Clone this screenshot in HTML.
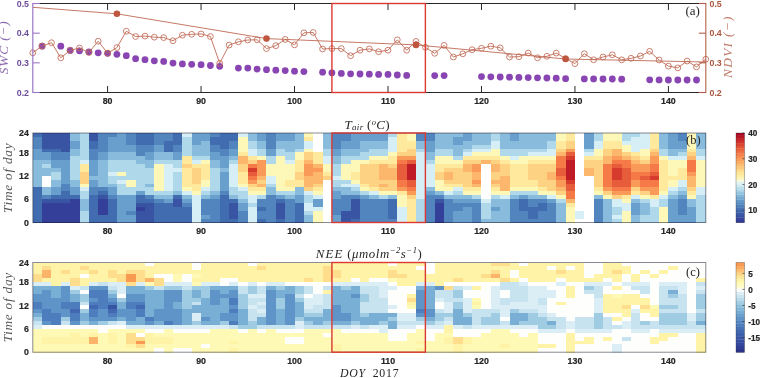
<!DOCTYPE html>
<html><head><meta charset="utf-8"><style>
html,body{margin:0;padding:0;background:#fff;width:760px;height:378px;overflow:hidden}
svg{display:block;filter:blur(0.45px)}
.tl{font-family:"Liberation Sans",sans-serif;font-size:8.8px;font-weight:bold;fill:#262626;stroke:#262626;stroke-width:0.2px}
.ms{font-family:"Liberation Serif",serif;font-style:italic;fill:#262626}
</style></head><body>
<svg width="760" height="378" viewBox="0 0 760 378">
<polyline points="32.8,7.3 116.9,13.8 266.5,38.6 416.0,44.9 565.6,59.0 705.8,62.0" fill="none" stroke="#c06a55" stroke-width="0.9"/>
<circle cx="42.1" cy="46.2" r="3.4" fill="#8946b3"/>
<circle cx="60.8" cy="46.2" r="3.4" fill="#8946b3"/>
<circle cx="70.2" cy="50.4" r="3.4" fill="#8946b3"/>
<circle cx="79.5" cy="50.8" r="3.4" fill="#8946b3"/>
<circle cx="88.9" cy="51.8" r="3.4" fill="#8946b3"/>
<circle cx="98.2" cy="52.8" r="3.4" fill="#8946b3"/>
<circle cx="107.6" cy="53.3" r="3.4" fill="#8946b3"/>
<circle cx="116.9" cy="54.3" r="3.4" fill="#8946b3"/>
<circle cx="126.3" cy="55.7" r="3.4" fill="#8946b3"/>
<circle cx="135.6" cy="58.7" r="3.4" fill="#8946b3"/>
<circle cx="145.0" cy="59.7" r="3.4" fill="#8946b3"/>
<circle cx="154.3" cy="60.8" r="3.4" fill="#8946b3"/>
<circle cx="163.7" cy="61.4" r="3.4" fill="#8946b3"/>
<circle cx="173.0" cy="63.1" r="3.4" fill="#8946b3"/>
<circle cx="182.4" cy="63.9" r="3.4" fill="#8946b3"/>
<circle cx="191.7" cy="64.3" r="3.4" fill="#8946b3"/>
<circle cx="201.1" cy="64.7" r="3.4" fill="#8946b3"/>
<circle cx="210.4" cy="65.5" r="3.4" fill="#8946b3"/>
<circle cx="219.7" cy="66.3" r="3.4" fill="#8946b3"/>
<circle cx="238.4" cy="68.1" r="3.4" fill="#8946b3"/>
<circle cx="247.8" cy="68.1" r="3.4" fill="#8946b3"/>
<circle cx="257.1" cy="69.1" r="3.4" fill="#8946b3"/>
<circle cx="266.5" cy="69.7" r="3.4" fill="#8946b3"/>
<circle cx="275.8" cy="70.2" r="3.4" fill="#8946b3"/>
<circle cx="285.2" cy="70.6" r="3.4" fill="#8946b3"/>
<circle cx="294.5" cy="71.2" r="3.4" fill="#8946b3"/>
<circle cx="303.9" cy="71.6" r="3.4" fill="#8946b3"/>
<circle cx="322.6" cy="72.2" r="3.4" fill="#8946b3"/>
<circle cx="331.9" cy="72.8" r="3.4" fill="#8946b3"/>
<circle cx="341.3" cy="73.4" r="3.4" fill="#8946b3"/>
<circle cx="350.6" cy="73.8" r="3.4" fill="#8946b3"/>
<circle cx="360.0" cy="74.0" r="3.4" fill="#8946b3"/>
<circle cx="369.3" cy="74.2" r="3.4" fill="#8946b3"/>
<circle cx="378.6" cy="74.4" r="3.4" fill="#8946b3"/>
<circle cx="388.0" cy="74.4" r="3.4" fill="#8946b3"/>
<circle cx="397.3" cy="75.0" r="3.4" fill="#8946b3"/>
<circle cx="406.7" cy="75.4" r="3.4" fill="#8946b3"/>
<circle cx="434.7" cy="75.6" r="3.4" fill="#8946b3"/>
<circle cx="444.1" cy="75.6" r="3.4" fill="#8946b3"/>
<circle cx="481.5" cy="76.6" r="3.4" fill="#8946b3"/>
<circle cx="490.8" cy="76.8" r="3.4" fill="#8946b3"/>
<circle cx="500.2" cy="77.0" r="3.4" fill="#8946b3"/>
<circle cx="509.5" cy="77.2" r="3.4" fill="#8946b3"/>
<circle cx="518.9" cy="77.4" r="3.4" fill="#8946b3"/>
<circle cx="528.2" cy="77.6" r="3.4" fill="#8946b3"/>
<circle cx="537.5" cy="77.8" r="3.4" fill="#8946b3"/>
<circle cx="546.9" cy="78.0" r="3.4" fill="#8946b3"/>
<circle cx="556.2" cy="78.2" r="3.4" fill="#8946b3"/>
<circle cx="565.6" cy="78.7" r="3.4" fill="#8946b3"/>
<circle cx="584.3" cy="78.9" r="3.4" fill="#8946b3"/>
<circle cx="593.6" cy="78.9" r="3.4" fill="#8946b3"/>
<circle cx="603.0" cy="79.0" r="3.4" fill="#8946b3"/>
<circle cx="612.3" cy="79.0" r="3.4" fill="#8946b3"/>
<circle cx="621.7" cy="79.2" r="3.4" fill="#8946b3"/>
<circle cx="649.7" cy="79.8" r="3.4" fill="#8946b3"/>
<circle cx="659.1" cy="79.9" r="3.4" fill="#8946b3"/>
<circle cx="668.4" cy="80.0" r="3.4" fill="#8946b3"/>
<circle cx="677.8" cy="80.0" r="3.4" fill="#8946b3"/>
<circle cx="687.1" cy="80.0" r="3.4" fill="#8946b3"/>
<circle cx="696.5" cy="80.0" r="3.4" fill="#8946b3"/>
<polyline points="32.8,52.8 42.1,46.0 51.5,42.7 60.8,57.8 70.2,50.4 79.5,48.0 88.9,52.5 98.2,41.2 107.6,53.2 116.9,47.6 126.3,31.2 135.6,36.5 145.0,36.1 154.3,37.2 163.7,37.6 173.0,40.7 182.4,35.2 191.7,34.3 201.1,33.9 210.4,36.5 219.7,63.3 229.1,45.1 238.4,41.8 247.8,40.0 257.1,39.8 266.5,48.6 275.8,45.7 285.2,39.4 294.5,44.9 303.9,32.8 313.2,32.5 322.6,49.0 331.9,48.6 341.3,48.6 350.6,55.7 360.0,50.2 369.3,48.9 378.6,51.7 388.0,50.2 397.3,39.8 406.7,50.2 416.0,41.4 425.4,47.3 434.7,53.3 444.1,45.4 453.4,57.0 462.8,53.8 472.1,49.7 481.5,48.3 490.8,46.2 500.2,47.8 509.5,57.0 518.9,56.7 528.2,53.0 537.5,57.8 546.9,56.3 556.2,53.1 565.6,58.5 574.9,63.6 584.3,53.7 593.6,59.8 603.0,57.0 612.3,54.8 621.7,59.8 631.0,58.3 640.4,56.0 649.7,51.3 659.1,60.0 668.4,66.1 677.8,67.9 687.1,61.0 696.5,66.9 705.8,59.2" fill="none" stroke="#c06a55" stroke-width="0.9"/>
<circle cx="32.8" cy="52.8" r="2.9" fill="none" stroke="#c06a55" stroke-width="0.85"/>
<circle cx="42.1" cy="46.0" r="2.9" fill="none" stroke="#c06a55" stroke-width="0.85"/>
<circle cx="51.5" cy="42.7" r="2.9" fill="none" stroke="#c06a55" stroke-width="0.85"/>
<circle cx="60.8" cy="57.8" r="2.9" fill="none" stroke="#c06a55" stroke-width="0.85"/>
<circle cx="70.2" cy="50.4" r="2.9" fill="none" stroke="#c06a55" stroke-width="0.85"/>
<circle cx="79.5" cy="48.0" r="2.9" fill="none" stroke="#c06a55" stroke-width="0.85"/>
<circle cx="88.9" cy="52.5" r="2.9" fill="none" stroke="#c06a55" stroke-width="0.85"/>
<circle cx="98.2" cy="41.2" r="2.9" fill="none" stroke="#c06a55" stroke-width="0.85"/>
<circle cx="107.6" cy="53.2" r="2.9" fill="none" stroke="#c06a55" stroke-width="0.85"/>
<circle cx="116.9" cy="47.6" r="2.9" fill="none" stroke="#c06a55" stroke-width="0.85"/>
<circle cx="126.3" cy="31.2" r="2.9" fill="none" stroke="#c06a55" stroke-width="0.85"/>
<circle cx="135.6" cy="36.5" r="2.9" fill="none" stroke="#c06a55" stroke-width="0.85"/>
<circle cx="145.0" cy="36.1" r="2.9" fill="none" stroke="#c06a55" stroke-width="0.85"/>
<circle cx="154.3" cy="37.2" r="2.9" fill="none" stroke="#c06a55" stroke-width="0.85"/>
<circle cx="163.7" cy="37.6" r="2.9" fill="none" stroke="#c06a55" stroke-width="0.85"/>
<circle cx="173.0" cy="40.7" r="2.9" fill="none" stroke="#c06a55" stroke-width="0.85"/>
<circle cx="182.4" cy="35.2" r="2.9" fill="none" stroke="#c06a55" stroke-width="0.85"/>
<circle cx="191.7" cy="34.3" r="2.9" fill="none" stroke="#c06a55" stroke-width="0.85"/>
<circle cx="201.1" cy="33.9" r="2.9" fill="none" stroke="#c06a55" stroke-width="0.85"/>
<circle cx="210.4" cy="36.5" r="2.9" fill="none" stroke="#c06a55" stroke-width="0.85"/>
<circle cx="219.7" cy="63.3" r="2.9" fill="none" stroke="#c06a55" stroke-width="0.85"/>
<circle cx="229.1" cy="45.1" r="2.9" fill="none" stroke="#c06a55" stroke-width="0.85"/>
<circle cx="238.4" cy="41.8" r="2.9" fill="none" stroke="#c06a55" stroke-width="0.85"/>
<circle cx="247.8" cy="40.0" r="2.9" fill="none" stroke="#c06a55" stroke-width="0.85"/>
<circle cx="257.1" cy="39.8" r="2.9" fill="none" stroke="#c06a55" stroke-width="0.85"/>
<circle cx="266.5" cy="48.6" r="2.9" fill="none" stroke="#c06a55" stroke-width="0.85"/>
<circle cx="275.8" cy="45.7" r="2.9" fill="none" stroke="#c06a55" stroke-width="0.85"/>
<circle cx="285.2" cy="39.4" r="2.9" fill="none" stroke="#c06a55" stroke-width="0.85"/>
<circle cx="294.5" cy="44.9" r="2.9" fill="none" stroke="#c06a55" stroke-width="0.85"/>
<circle cx="303.9" cy="32.8" r="2.9" fill="none" stroke="#c06a55" stroke-width="0.85"/>
<circle cx="313.2" cy="32.5" r="2.9" fill="none" stroke="#c06a55" stroke-width="0.85"/>
<circle cx="322.6" cy="49.0" r="2.9" fill="none" stroke="#c06a55" stroke-width="0.85"/>
<circle cx="331.9" cy="48.6" r="2.9" fill="none" stroke="#c06a55" stroke-width="0.85"/>
<circle cx="341.3" cy="48.6" r="2.9" fill="none" stroke="#c06a55" stroke-width="0.85"/>
<circle cx="350.6" cy="55.7" r="2.9" fill="none" stroke="#c06a55" stroke-width="0.85"/>
<circle cx="360.0" cy="50.2" r="2.9" fill="none" stroke="#c06a55" stroke-width="0.85"/>
<circle cx="369.3" cy="48.9" r="2.9" fill="none" stroke="#c06a55" stroke-width="0.85"/>
<circle cx="378.6" cy="51.7" r="2.9" fill="none" stroke="#c06a55" stroke-width="0.85"/>
<circle cx="388.0" cy="50.2" r="2.9" fill="none" stroke="#c06a55" stroke-width="0.85"/>
<circle cx="397.3" cy="39.8" r="2.9" fill="none" stroke="#c06a55" stroke-width="0.85"/>
<circle cx="406.7" cy="50.2" r="2.9" fill="none" stroke="#c06a55" stroke-width="0.85"/>
<circle cx="416.0" cy="41.4" r="2.9" fill="none" stroke="#c06a55" stroke-width="0.85"/>
<circle cx="425.4" cy="47.3" r="2.9" fill="none" stroke="#c06a55" stroke-width="0.85"/>
<circle cx="434.7" cy="53.3" r="2.9" fill="none" stroke="#c06a55" stroke-width="0.85"/>
<circle cx="444.1" cy="45.4" r="2.9" fill="none" stroke="#c06a55" stroke-width="0.85"/>
<circle cx="453.4" cy="57.0" r="2.9" fill="none" stroke="#c06a55" stroke-width="0.85"/>
<circle cx="462.8" cy="53.8" r="2.9" fill="none" stroke="#c06a55" stroke-width="0.85"/>
<circle cx="472.1" cy="49.7" r="2.9" fill="none" stroke="#c06a55" stroke-width="0.85"/>
<circle cx="481.5" cy="48.3" r="2.9" fill="none" stroke="#c06a55" stroke-width="0.85"/>
<circle cx="490.8" cy="46.2" r="2.9" fill="none" stroke="#c06a55" stroke-width="0.85"/>
<circle cx="500.2" cy="47.8" r="2.9" fill="none" stroke="#c06a55" stroke-width="0.85"/>
<circle cx="509.5" cy="57.0" r="2.9" fill="none" stroke="#c06a55" stroke-width="0.85"/>
<circle cx="518.9" cy="56.7" r="2.9" fill="none" stroke="#c06a55" stroke-width="0.85"/>
<circle cx="528.2" cy="53.0" r="2.9" fill="none" stroke="#c06a55" stroke-width="0.85"/>
<circle cx="537.5" cy="57.8" r="2.9" fill="none" stroke="#c06a55" stroke-width="0.85"/>
<circle cx="546.9" cy="56.3" r="2.9" fill="none" stroke="#c06a55" stroke-width="0.85"/>
<circle cx="556.2" cy="53.1" r="2.9" fill="none" stroke="#c06a55" stroke-width="0.85"/>
<circle cx="565.6" cy="58.5" r="2.9" fill="none" stroke="#c06a55" stroke-width="0.85"/>
<circle cx="574.9" cy="63.6" r="2.9" fill="none" stroke="#c06a55" stroke-width="0.85"/>
<circle cx="584.3" cy="53.7" r="2.9" fill="none" stroke="#c06a55" stroke-width="0.85"/>
<circle cx="593.6" cy="59.8" r="2.9" fill="none" stroke="#c06a55" stroke-width="0.85"/>
<circle cx="603.0" cy="57.0" r="2.9" fill="none" stroke="#c06a55" stroke-width="0.85"/>
<circle cx="612.3" cy="54.8" r="2.9" fill="none" stroke="#c06a55" stroke-width="0.85"/>
<circle cx="621.7" cy="59.8" r="2.9" fill="none" stroke="#c06a55" stroke-width="0.85"/>
<circle cx="631.0" cy="58.3" r="2.9" fill="none" stroke="#c06a55" stroke-width="0.85"/>
<circle cx="640.4" cy="56.0" r="2.9" fill="none" stroke="#c06a55" stroke-width="0.85"/>
<circle cx="649.7" cy="51.3" r="2.9" fill="none" stroke="#c06a55" stroke-width="0.85"/>
<circle cx="659.1" cy="60.0" r="2.9" fill="none" stroke="#c06a55" stroke-width="0.85"/>
<circle cx="668.4" cy="66.1" r="2.9" fill="none" stroke="#c06a55" stroke-width="0.85"/>
<circle cx="677.8" cy="67.9" r="2.9" fill="none" stroke="#c06a55" stroke-width="0.85"/>
<circle cx="687.1" cy="61.0" r="2.9" fill="none" stroke="#c06a55" stroke-width="0.85"/>
<circle cx="696.5" cy="66.9" r="2.9" fill="none" stroke="#c06a55" stroke-width="0.85"/>
<circle cx="705.8" cy="59.2" r="2.9" fill="none" stroke="#c06a55" stroke-width="0.85"/>
<circle cx="116.9" cy="13.8" r="3.3" fill="#bf5640"/>
<circle cx="266.5" cy="38.6" r="3.3" fill="#bf5640"/>
<circle cx="416.0" cy="44.9" r="3.3" fill="#bf5640"/>
<circle cx="565.6" cy="59.0" r="3.3" fill="#bf5640"/>
<line x1="32.80" y1="3.50" x2="705.80" y2="3.50" stroke="#262626" stroke-width="1"/>
<line x1="32.80" y1="92.50" x2="705.80" y2="92.50" stroke="#262626" stroke-width="1"/>
<line x1="107.58" y1="92.50" x2="107.58" y2="86.00" stroke="#262626" stroke-width="1"/>
<line x1="107.58" y1="3.50" x2="107.58" y2="10.00" stroke="#262626" stroke-width="1"/>
<text x="107.58" y="104.20" class="tl" text-anchor="middle">80</text>
<line x1="201.05" y1="92.50" x2="201.05" y2="86.00" stroke="#262626" stroke-width="1"/>
<line x1="201.05" y1="3.50" x2="201.05" y2="10.00" stroke="#262626" stroke-width="1"/>
<text x="201.05" y="104.20" class="tl" text-anchor="middle">90</text>
<line x1="294.52" y1="92.50" x2="294.52" y2="86.00" stroke="#262626" stroke-width="1"/>
<line x1="294.52" y1="3.50" x2="294.52" y2="10.00" stroke="#262626" stroke-width="1"/>
<text x="294.52" y="104.20" class="tl" text-anchor="middle">100</text>
<line x1="387.99" y1="92.50" x2="387.99" y2="86.00" stroke="#262626" stroke-width="1"/>
<line x1="387.99" y1="3.50" x2="387.99" y2="10.00" stroke="#262626" stroke-width="1"/>
<text x="387.99" y="104.20" class="tl" text-anchor="middle">110</text>
<line x1="481.47" y1="92.50" x2="481.47" y2="86.00" stroke="#262626" stroke-width="1"/>
<line x1="481.47" y1="3.50" x2="481.47" y2="10.00" stroke="#262626" stroke-width="1"/>
<text x="481.47" y="104.20" class="tl" text-anchor="middle">120</text>
<line x1="574.94" y1="92.50" x2="574.94" y2="86.00" stroke="#262626" stroke-width="1"/>
<line x1="574.94" y1="3.50" x2="574.94" y2="10.00" stroke="#262626" stroke-width="1"/>
<text x="574.94" y="104.20" class="tl" text-anchor="middle">130</text>
<line x1="668.41" y1="92.50" x2="668.41" y2="86.00" stroke="#262626" stroke-width="1"/>
<line x1="668.41" y1="3.50" x2="668.41" y2="10.00" stroke="#262626" stroke-width="1"/>
<text x="668.41" y="104.20" class="tl" text-anchor="middle">140</text>
<line x1="32.80" y1="3.00" x2="32.80" y2="93.00" stroke="#9b78c6" stroke-width="1.2"/>
<line x1="705.80" y1="3.00" x2="705.80" y2="93.00" stroke="#b5604c" stroke-width="1.1"/>
<line x1="32.80" y1="92.50" x2="39.80" y2="92.50" stroke="#9b78c6" stroke-width="1.1"/>
<line x1="705.80" y1="92.50" x2="698.80" y2="92.50" stroke="#b5604c" stroke-width="1.1"/>
<text x="29" y="95.80" class="tl" text-anchor="end" style="fill:#6c4c98;stroke:none">0.2</text>
<text x="709.5" y="95.80" class="tl" style="fill:#a9563f;stroke:none">0.2</text>
<line x1="32.80" y1="62.83" x2="39.80" y2="62.83" stroke="#9b78c6" stroke-width="1.1"/>
<line x1="705.80" y1="62.83" x2="698.80" y2="62.83" stroke="#b5604c" stroke-width="1.1"/>
<text x="29" y="66.13" class="tl" text-anchor="end" style="fill:#6c4c98;stroke:none">0.3</text>
<text x="709.5" y="66.13" class="tl" style="fill:#a9563f;stroke:none">0.3</text>
<line x1="32.80" y1="33.17" x2="39.80" y2="33.17" stroke="#9b78c6" stroke-width="1.1"/>
<line x1="705.80" y1="33.17" x2="698.80" y2="33.17" stroke="#b5604c" stroke-width="1.1"/>
<text x="29" y="36.47" class="tl" text-anchor="end" style="fill:#6c4c98;stroke:none">0.4</text>
<text x="709.5" y="36.47" class="tl" style="fill:#a9563f;stroke:none">0.4</text>
<line x1="32.80" y1="3.50" x2="39.80" y2="3.50" stroke="#9b78c6" stroke-width="1.1"/>
<line x1="705.80" y1="3.50" x2="698.80" y2="3.50" stroke="#b5604c" stroke-width="1.1"/>
<text x="29" y="6.80" class="tl" text-anchor="end" style="fill:#6c4c98;stroke:none">0.5</text>
<text x="709.5" y="6.80" class="tl" style="fill:#a9563f;stroke:none">0.5</text>
<text id="swc" transform="translate(8.3,47.3) rotate(-90)" class="ms" text-anchor="middle" style="font-size:13.2px;letter-spacing:0.9px;fill:#8a6aae">SWC (−)</text>
<text id="ndvi" transform="translate(732.4,46.6) rotate(-90)" class="ms" text-anchor="middle" style="font-size:13.3px;letter-spacing:1.3px;fill:#c07a6a">NDVI (−)</text>
<text id="la" x="685.5" y="15.2" class="ms" style="font-style:normal;font-size:13px">(a)</text>
<rect x="331.91" y="3.50" width="93.47" height="89.00" fill="none" stroke="#db3a33" stroke-width="1.4"/>
<g shape-rendering="crispEdges"><rect x="32.80" y="133.00" width="9.70" height="4.24" fill="#426cb0"/>
<rect x="32.80" y="136.89" width="9.70" height="12.02" fill="#5285be"/>
<rect x="32.80" y="148.57" width="9.70" height="12.02" fill="#699fcd"/>
<rect x="32.80" y="160.24" width="9.70" height="27.59" fill="#89bcdc"/>
<rect x="32.80" y="187.48" width="9.70" height="35.37" fill="#426cb0"/>
<rect x="42.15" y="133.00" width="9.70" height="15.92" fill="#3a54a4"/>
<rect x="42.15" y="148.57" width="9.70" height="4.24" fill="#426cb0"/>
<rect x="42.15" y="152.46" width="9.70" height="8.13" fill="#699fcd"/>
<rect x="42.15" y="160.24" width="9.70" height="4.24" fill="#89bcdc"/>
<rect x="42.15" y="164.13" width="9.70" height="4.24" fill="#afd9ea"/>
<rect x="42.15" y="168.02" width="9.70" height="8.13" fill="#89bcdc"/>
<rect x="42.15" y="175.80" width="9.70" height="12.02" fill="#ffffff"/>
<rect x="42.15" y="187.48" width="9.70" height="8.13" fill="#89bcdc"/>
<rect x="42.15" y="195.26" width="9.70" height="4.24" fill="#5285be"/>
<rect x="42.15" y="199.15" width="9.70" height="4.24" fill="#3a54a4"/>
<rect x="42.15" y="203.04" width="9.70" height="19.81" fill="#343f99"/>
<rect x="51.49" y="133.00" width="9.70" height="15.92" fill="#3a54a4"/>
<rect x="51.49" y="148.57" width="9.70" height="4.24" fill="#426cb0"/>
<rect x="51.49" y="152.46" width="9.70" height="8.13" fill="#5285be"/>
<rect x="51.49" y="160.24" width="9.70" height="8.13" fill="#699fcd"/>
<rect x="51.49" y="168.02" width="9.70" height="4.24" fill="#89bcdc"/>
<rect x="51.49" y="171.91" width="9.70" height="8.13" fill="#afd9ea"/>
<rect x="51.49" y="179.70" width="9.70" height="8.13" fill="#89bcdc"/>
<rect x="51.49" y="187.48" width="9.70" height="8.13" fill="#699fcd"/>
<rect x="51.49" y="195.26" width="9.70" height="4.24" fill="#426cb0"/>
<rect x="51.49" y="199.15" width="9.70" height="4.24" fill="#3a54a4"/>
<rect x="51.49" y="203.04" width="9.70" height="19.81" fill="#343f99"/>
<rect x="60.84" y="133.00" width="9.70" height="19.81" fill="#3a54a4"/>
<rect x="60.84" y="152.46" width="9.70" height="8.13" fill="#5285be"/>
<rect x="60.84" y="160.24" width="9.70" height="23.70" fill="#699fcd"/>
<rect x="60.84" y="183.59" width="9.70" height="8.13" fill="#5285be"/>
<rect x="60.84" y="191.37" width="9.70" height="8.13" fill="#426cb0"/>
<rect x="60.84" y="199.15" width="9.70" height="4.24" fill="#3a54a4"/>
<rect x="60.84" y="203.04" width="9.70" height="19.81" fill="#343f99"/>
<rect x="70.19" y="133.00" width="9.70" height="8.13" fill="#89bcdc"/>
<rect x="70.19" y="140.78" width="9.70" height="8.13" fill="#699fcd"/>
<rect x="70.19" y="148.57" width="9.70" height="8.13" fill="#89bcdc"/>
<rect x="70.19" y="156.35" width="9.70" height="23.70" fill="#afd9ea"/>
<rect x="70.19" y="179.70" width="9.70" height="8.13" fill="#89bcdc"/>
<rect x="70.19" y="187.48" width="9.70" height="8.13" fill="#699fcd"/>
<rect x="70.19" y="195.26" width="9.70" height="4.24" fill="#426cb0"/>
<rect x="70.19" y="199.15" width="9.70" height="23.70" fill="#343f99"/>
<rect x="79.54" y="133.00" width="9.70" height="27.59" fill="#afd9ea"/>
<rect x="79.54" y="160.24" width="9.70" height="4.24" fill="#d6eef5"/>
<rect x="79.54" y="164.13" width="9.70" height="8.13" fill="#fee99d"/>
<rect x="79.54" y="171.91" width="9.70" height="12.02" fill="#fdd283"/>
<rect x="79.54" y="183.59" width="9.70" height="4.24" fill="#fef8b8"/>
<rect x="79.54" y="187.48" width="9.70" height="4.24" fill="#d6eef5"/>
<rect x="79.54" y="191.37" width="9.70" height="8.13" fill="#afd9ea"/>
<rect x="79.54" y="199.15" width="9.70" height="12.02" fill="#89bcdc"/>
<rect x="79.54" y="210.83" width="9.70" height="12.02" fill="#afd9ea"/>
<rect x="88.88" y="133.00" width="9.70" height="8.13" fill="#3a54a4"/>
<rect x="88.88" y="140.78" width="9.70" height="8.13" fill="#426cb0"/>
<rect x="88.88" y="148.57" width="9.70" height="12.02" fill="#5285be"/>
<rect x="88.88" y="160.24" width="9.70" height="15.92" fill="#699fcd"/>
<rect x="88.88" y="175.80" width="9.70" height="4.24" fill="#89bcdc"/>
<rect x="88.88" y="179.70" width="9.70" height="8.13" fill="#699fcd"/>
<rect x="88.88" y="187.48" width="9.70" height="8.13" fill="#5285be"/>
<rect x="88.88" y="195.26" width="9.70" height="27.59" fill="#426cb0"/>
<rect x="98.23" y="133.00" width="9.70" height="19.81" fill="#5285be"/>
<rect x="98.23" y="152.46" width="9.70" height="8.13" fill="#699fcd"/>
<rect x="98.23" y="160.24" width="9.70" height="27.59" fill="#89bcdc"/>
<rect x="98.23" y="187.48" width="9.70" height="4.24" fill="#5285be"/>
<rect x="98.23" y="191.37" width="9.70" height="4.24" fill="#426cb0"/>
<rect x="98.23" y="195.26" width="9.70" height="4.24" fill="#3a54a4"/>
<rect x="98.23" y="199.15" width="9.70" height="15.92" fill="#343f99"/>
<rect x="98.23" y="214.72" width="9.70" height="8.13" fill="#426cb0"/>
<rect x="107.58" y="133.00" width="9.70" height="4.24" fill="#5285be"/>
<rect x="107.58" y="136.89" width="9.70" height="15.92" fill="#699fcd"/>
<rect x="107.58" y="152.46" width="9.70" height="8.13" fill="#89bcdc"/>
<rect x="107.58" y="160.24" width="9.70" height="12.02" fill="#afd9ea"/>
<rect x="107.58" y="171.91" width="9.70" height="4.24" fill="#d6eef5"/>
<rect x="107.58" y="175.80" width="9.70" height="8.13" fill="#afd9ea"/>
<rect x="107.58" y="183.59" width="9.70" height="4.24" fill="#89bcdc"/>
<rect x="107.58" y="187.48" width="9.70" height="8.13" fill="#699fcd"/>
<rect x="107.58" y="195.26" width="9.70" height="4.24" fill="#5285be"/>
<rect x="107.58" y="199.15" width="9.70" height="23.70" fill="#426cb0"/>
<rect x="116.92" y="133.00" width="9.70" height="19.81" fill="#699fcd"/>
<rect x="116.92" y="152.46" width="9.70" height="8.13" fill="#89bcdc"/>
<rect x="116.92" y="160.24" width="9.70" height="12.02" fill="#afd9ea"/>
<rect x="116.92" y="171.91" width="9.70" height="4.24" fill="#fef8b8"/>
<rect x="116.92" y="175.80" width="9.70" height="4.24" fill="#afd9ea"/>
<rect x="116.92" y="179.70" width="9.70" height="4.24" fill="#d6eef5"/>
<rect x="116.92" y="183.59" width="9.70" height="12.02" fill="#afd9ea"/>
<rect x="116.92" y="195.26" width="9.70" height="27.59" fill="#699fcd"/>
<rect x="126.27" y="133.00" width="9.70" height="12.02" fill="#5285be"/>
<rect x="126.27" y="144.67" width="9.70" height="8.13" fill="#699fcd"/>
<rect x="126.27" y="152.46" width="9.70" height="8.13" fill="#89bcdc"/>
<rect x="126.27" y="160.24" width="9.70" height="19.81" fill="#afd9ea"/>
<rect x="126.27" y="179.70" width="9.70" height="8.13" fill="#fef8b8"/>
<rect x="126.27" y="187.48" width="9.70" height="8.13" fill="#afd9ea"/>
<rect x="126.27" y="195.26" width="9.70" height="15.92" fill="#699fcd"/>
<rect x="126.27" y="210.83" width="9.70" height="4.24" fill="#5285be"/>
<rect x="126.27" y="214.72" width="9.70" height="8.13" fill="#699fcd"/>
<rect x="135.62" y="133.00" width="9.70" height="12.02" fill="#426cb0"/>
<rect x="135.62" y="144.67" width="9.70" height="12.02" fill="#5285be"/>
<rect x="135.62" y="156.35" width="9.70" height="8.13" fill="#89bcdc"/>
<rect x="135.62" y="164.13" width="9.70" height="27.59" fill="#afd9ea"/>
<rect x="135.62" y="191.37" width="9.70" height="4.24" fill="#699fcd"/>
<rect x="135.62" y="195.26" width="9.70" height="8.13" fill="#426cb0"/>
<rect x="135.62" y="203.04" width="9.70" height="4.24" fill="#3a54a4"/>
<rect x="135.62" y="206.93" width="9.70" height="4.24" fill="#343f99"/>
<rect x="135.62" y="210.83" width="9.70" height="12.02" fill="#3a54a4"/>
<rect x="144.97" y="133.00" width="9.70" height="12.02" fill="#426cb0"/>
<rect x="144.97" y="144.67" width="9.70" height="8.13" fill="#5285be"/>
<rect x="144.97" y="152.46" width="9.70" height="8.13" fill="#699fcd"/>
<rect x="144.97" y="160.24" width="9.70" height="8.13" fill="#89bcdc"/>
<rect x="144.97" y="168.02" width="9.70" height="15.92" fill="#afd9ea"/>
<rect x="144.97" y="183.59" width="9.70" height="4.24" fill="#89bcdc"/>
<rect x="144.97" y="187.48" width="9.70" height="8.13" fill="#afd9ea"/>
<rect x="144.97" y="195.26" width="9.70" height="4.24" fill="#5285be"/>
<rect x="144.97" y="199.15" width="9.70" height="4.24" fill="#426cb0"/>
<rect x="144.97" y="203.04" width="9.70" height="19.81" fill="#3a54a4"/>
<rect x="154.31" y="133.00" width="9.70" height="12.02" fill="#5285be"/>
<rect x="154.31" y="144.67" width="9.70" height="8.13" fill="#699fcd"/>
<rect x="154.31" y="152.46" width="9.70" height="8.13" fill="#89bcdc"/>
<rect x="154.31" y="160.24" width="9.70" height="4.24" fill="#afd9ea"/>
<rect x="154.31" y="164.13" width="9.70" height="27.59" fill="#fef8b8"/>
<rect x="154.31" y="191.37" width="9.70" height="4.24" fill="#afd9ea"/>
<rect x="154.31" y="195.26" width="9.70" height="4.24" fill="#89bcdc"/>
<rect x="154.31" y="199.15" width="9.70" height="4.24" fill="#5285be"/>
<rect x="154.31" y="203.04" width="9.70" height="19.81" fill="#426cb0"/>
<rect x="163.66" y="133.00" width="9.70" height="8.13" fill="#5285be"/>
<rect x="163.66" y="140.78" width="9.70" height="12.02" fill="#426cb0"/>
<rect x="163.66" y="152.46" width="9.70" height="8.13" fill="#89bcdc"/>
<rect x="163.66" y="160.24" width="9.70" height="4.24" fill="#afd9ea"/>
<rect x="163.66" y="164.13" width="9.70" height="27.59" fill="#d6eef5"/>
<rect x="163.66" y="191.37" width="9.70" height="4.24" fill="#afd9ea"/>
<rect x="163.66" y="195.26" width="9.70" height="4.24" fill="#89bcdc"/>
<rect x="163.66" y="199.15" width="9.70" height="4.24" fill="#699fcd"/>
<rect x="163.66" y="203.04" width="9.70" height="19.81" fill="#426cb0"/>
<rect x="173.01" y="133.00" width="9.70" height="12.02" fill="#426cb0"/>
<rect x="173.01" y="144.67" width="9.70" height="8.13" fill="#5285be"/>
<rect x="173.01" y="152.46" width="9.70" height="8.13" fill="#699fcd"/>
<rect x="173.01" y="160.24" width="9.70" height="8.13" fill="#afd9ea"/>
<rect x="173.01" y="168.02" width="9.70" height="4.24" fill="#d6eef5"/>
<rect x="173.01" y="171.91" width="9.70" height="19.81" fill="#afd9ea"/>
<rect x="173.01" y="191.37" width="9.70" height="4.24" fill="#89bcdc"/>
<rect x="173.01" y="195.26" width="9.70" height="4.24" fill="#426cb0"/>
<rect x="173.01" y="199.15" width="9.70" height="8.13" fill="#3a54a4"/>
<rect x="173.01" y="206.93" width="9.70" height="15.92" fill="#426cb0"/>
<rect x="182.36" y="133.00" width="9.70" height="4.24" fill="#d6eef5"/>
<rect x="182.36" y="136.89" width="9.70" height="19.81" fill="#afd9ea"/>
<rect x="182.36" y="156.35" width="9.70" height="8.13" fill="#fee99d"/>
<rect x="182.36" y="164.13" width="9.70" height="4.24" fill="#fdd283"/>
<rect x="182.36" y="168.02" width="9.70" height="19.81" fill="#fee99d"/>
<rect x="182.36" y="187.48" width="9.70" height="4.24" fill="#fef8b8"/>
<rect x="182.36" y="191.37" width="9.70" height="4.24" fill="#d6eef5"/>
<rect x="182.36" y="195.26" width="9.70" height="4.24" fill="#89bcdc"/>
<rect x="182.36" y="199.15" width="9.70" height="4.24" fill="#699fcd"/>
<rect x="182.36" y="203.04" width="9.70" height="4.24" fill="#5285be"/>
<rect x="182.36" y="206.93" width="9.70" height="15.92" fill="#426cb0"/>
<rect x="191.70" y="133.00" width="9.70" height="12.02" fill="#699fcd"/>
<rect x="191.70" y="144.67" width="9.70" height="12.02" fill="#89bcdc"/>
<rect x="191.70" y="156.35" width="9.70" height="4.24" fill="#afd9ea"/>
<rect x="191.70" y="160.24" width="9.70" height="4.24" fill="#d6eef5"/>
<rect x="191.70" y="164.13" width="9.70" height="4.24" fill="#fee99d"/>
<rect x="191.70" y="168.02" width="9.70" height="15.92" fill="#fdd283"/>
<rect x="191.70" y="183.59" width="9.70" height="8.13" fill="#fee99d"/>
<rect x="191.70" y="191.37" width="9.70" height="4.24" fill="#fef8b8"/>
<rect x="191.70" y="195.26" width="9.70" height="27.59" fill="#d6eef5"/>
<rect x="201.05" y="133.00" width="9.70" height="8.13" fill="#699fcd"/>
<rect x="201.05" y="140.78" width="9.70" height="15.92" fill="#89bcdc"/>
<rect x="201.05" y="156.35" width="9.70" height="4.24" fill="#afd9ea"/>
<rect x="201.05" y="160.24" width="9.70" height="4.24" fill="#fef8b8"/>
<rect x="201.05" y="164.13" width="9.70" height="15.92" fill="#fee99d"/>
<rect x="201.05" y="179.70" width="9.70" height="8.13" fill="#fef8b8"/>
<rect x="201.05" y="187.48" width="9.70" height="4.24" fill="#d6eef5"/>
<rect x="201.05" y="191.37" width="9.70" height="4.24" fill="#afd9ea"/>
<rect x="201.05" y="195.26" width="9.70" height="4.24" fill="#89bcdc"/>
<rect x="201.05" y="199.15" width="9.70" height="15.92" fill="#5285be"/>
<rect x="201.05" y="214.72" width="9.70" height="4.24" fill="#699fcd"/>
<rect x="201.05" y="218.61" width="9.70" height="4.24" fill="#5285be"/>
<rect x="210.40" y="133.00" width="9.70" height="4.24" fill="#5285be"/>
<rect x="210.40" y="136.89" width="9.70" height="8.13" fill="#426cb0"/>
<rect x="210.40" y="144.67" width="9.70" height="8.13" fill="#5285be"/>
<rect x="210.40" y="152.46" width="9.70" height="8.13" fill="#699fcd"/>
<rect x="210.40" y="160.24" width="9.70" height="8.13" fill="#89bcdc"/>
<rect x="210.40" y="168.02" width="9.70" height="23.70" fill="#afd9ea"/>
<rect x="210.40" y="191.37" width="9.70" height="4.24" fill="#89bcdc"/>
<rect x="210.40" y="195.26" width="9.70" height="4.24" fill="#699fcd"/>
<rect x="210.40" y="199.15" width="9.70" height="23.70" fill="#5285be"/>
<rect x="219.74" y="133.00" width="9.70" height="15.92" fill="#426cb0"/>
<rect x="219.74" y="148.57" width="9.70" height="8.13" fill="#5285be"/>
<rect x="219.74" y="156.35" width="9.70" height="12.02" fill="#699fcd"/>
<rect x="219.74" y="168.02" width="9.70" height="4.24" fill="#89bcdc"/>
<rect x="219.74" y="171.91" width="9.70" height="19.81" fill="#699fcd"/>
<rect x="219.74" y="191.37" width="9.70" height="4.24" fill="#5285be"/>
<rect x="219.74" y="195.26" width="9.70" height="27.59" fill="#426cb0"/>
<rect x="229.09" y="133.00" width="9.70" height="8.13" fill="#426cb0"/>
<rect x="229.09" y="140.78" width="9.70" height="8.13" fill="#5285be"/>
<rect x="229.09" y="148.57" width="9.70" height="8.13" fill="#699fcd"/>
<rect x="229.09" y="156.35" width="9.70" height="4.24" fill="#89bcdc"/>
<rect x="229.09" y="160.24" width="9.70" height="4.24" fill="#afd9ea"/>
<rect x="229.09" y="164.13" width="9.70" height="23.70" fill="#d6eef5"/>
<rect x="229.09" y="187.48" width="9.70" height="8.13" fill="#afd9ea"/>
<rect x="229.09" y="195.26" width="9.70" height="4.24" fill="#89bcdc"/>
<rect x="229.09" y="199.15" width="9.70" height="4.24" fill="#426cb0"/>
<rect x="229.09" y="203.04" width="9.70" height="15.92" fill="#3a54a4"/>
<rect x="229.09" y="218.61" width="9.70" height="4.24" fill="#426cb0"/>
<rect x="238.44" y="133.00" width="9.70" height="4.24" fill="#d6eef5"/>
<rect x="238.44" y="136.89" width="9.70" height="15.92" fill="#fef8b8"/>
<rect x="238.44" y="152.46" width="9.70" height="4.24" fill="#fee99d"/>
<rect x="238.44" y="156.35" width="9.70" height="8.13" fill="#fcb76c"/>
<rect x="238.44" y="164.13" width="9.70" height="8.13" fill="#fdd283"/>
<rect x="238.44" y="171.91" width="9.70" height="12.02" fill="#fee99d"/>
<rect x="238.44" y="183.59" width="9.70" height="4.24" fill="#fef8b8"/>
<rect x="238.44" y="187.48" width="9.70" height="4.24" fill="#d6eef5"/>
<rect x="238.44" y="191.37" width="9.70" height="8.13" fill="#afd9ea"/>
<rect x="238.44" y="199.15" width="9.70" height="4.24" fill="#89bcdc"/>
<rect x="238.44" y="203.04" width="9.70" height="8.13" fill="#699fcd"/>
<rect x="238.44" y="210.83" width="9.70" height="12.02" fill="#5285be"/>
<rect x="247.79" y="133.00" width="9.70" height="8.13" fill="#89bcdc"/>
<rect x="247.79" y="140.78" width="9.70" height="8.13" fill="#afd9ea"/>
<rect x="247.79" y="148.57" width="9.70" height="8.13" fill="#d6eef5"/>
<rect x="247.79" y="156.35" width="9.70" height="4.24" fill="#fee99d"/>
<rect x="247.79" y="160.24" width="9.70" height="4.24" fill="#fdd283"/>
<rect x="247.79" y="164.13" width="9.70" height="4.24" fill="#f57a48"/>
<rect x="247.79" y="168.02" width="9.70" height="4.24" fill="#d63b2d"/>
<rect x="247.79" y="171.91" width="9.70" height="4.24" fill="#e75c3a"/>
<rect x="247.79" y="175.80" width="9.70" height="4.24" fill="#f57a48"/>
<rect x="247.79" y="179.70" width="9.70" height="4.24" fill="#fa9a58"/>
<rect x="247.79" y="183.59" width="9.70" height="4.24" fill="#fdd283"/>
<rect x="247.79" y="187.48" width="9.70" height="4.24" fill="#fee99d"/>
<rect x="247.79" y="191.37" width="9.70" height="4.24" fill="#fef8b8"/>
<rect x="247.79" y="195.26" width="9.70" height="8.13" fill="#d6eef5"/>
<rect x="247.79" y="203.04" width="9.70" height="4.24" fill="#afd9ea"/>
<rect x="247.79" y="206.93" width="9.70" height="15.92" fill="#d6eef5"/>
<rect x="257.13" y="133.00" width="9.70" height="8.13" fill="#699fcd"/>
<rect x="257.13" y="140.78" width="9.70" height="8.13" fill="#89bcdc"/>
<rect x="257.13" y="148.57" width="9.70" height="8.13" fill="#afd9ea"/>
<rect x="257.13" y="156.35" width="9.70" height="4.24" fill="#fef8b8"/>
<rect x="257.13" y="160.24" width="9.70" height="15.92" fill="#fa9a58"/>
<rect x="257.13" y="175.80" width="9.70" height="4.24" fill="#fcb76c"/>
<rect x="257.13" y="179.70" width="9.70" height="4.24" fill="#fdd283"/>
<rect x="257.13" y="183.59" width="9.70" height="4.24" fill="#fcb76c"/>
<rect x="257.13" y="187.48" width="9.70" height="4.24" fill="#fee99d"/>
<rect x="257.13" y="191.37" width="9.70" height="4.24" fill="#fef8b8"/>
<rect x="257.13" y="195.26" width="9.70" height="4.24" fill="#afd9ea"/>
<rect x="257.13" y="199.15" width="9.70" height="8.13" fill="#5285be"/>
<rect x="257.13" y="206.93" width="9.70" height="4.24" fill="#426cb0"/>
<rect x="257.13" y="210.83" width="9.70" height="8.13" fill="#5285be"/>
<rect x="257.13" y="218.61" width="9.70" height="4.24" fill="#426cb0"/>
<rect x="266.48" y="133.00" width="9.70" height="15.92" fill="#5285be"/>
<rect x="266.48" y="148.57" width="9.70" height="8.13" fill="#699fcd"/>
<rect x="266.48" y="156.35" width="9.70" height="8.13" fill="#afd9ea"/>
<rect x="266.48" y="164.13" width="9.70" height="12.02" fill="#fef8b8"/>
<rect x="266.48" y="175.80" width="9.70" height="8.13" fill="#d6eef5"/>
<rect x="266.48" y="183.59" width="9.70" height="4.24" fill="#afd9ea"/>
<rect x="266.48" y="187.48" width="9.70" height="8.13" fill="#89bcdc"/>
<rect x="266.48" y="195.26" width="9.70" height="27.59" fill="#5285be"/>
<rect x="275.83" y="133.00" width="9.70" height="8.13" fill="#699fcd"/>
<rect x="275.83" y="140.78" width="9.70" height="8.13" fill="#89bcdc"/>
<rect x="275.83" y="148.57" width="9.70" height="8.13" fill="#afd9ea"/>
<rect x="275.83" y="156.35" width="9.70" height="35.37" fill="#fef8b8"/>
<rect x="275.83" y="191.37" width="9.70" height="4.24" fill="#afd9ea"/>
<rect x="275.83" y="195.26" width="9.70" height="4.24" fill="#699fcd"/>
<rect x="275.83" y="199.15" width="9.70" height="4.24" fill="#426cb0"/>
<rect x="275.83" y="203.04" width="9.70" height="15.92" fill="#3a54a4"/>
<rect x="275.83" y="218.61" width="9.70" height="4.24" fill="#426cb0"/>
<rect x="285.18" y="133.00" width="9.70" height="8.13" fill="#699fcd"/>
<rect x="285.18" y="140.78" width="9.70" height="12.02" fill="#89bcdc"/>
<rect x="285.18" y="152.46" width="9.70" height="8.13" fill="#afd9ea"/>
<rect x="285.18" y="160.24" width="9.70" height="4.24" fill="#d6eef5"/>
<rect x="285.18" y="164.13" width="9.70" height="15.92" fill="#fef8b8"/>
<rect x="285.18" y="179.70" width="9.70" height="8.13" fill="#fee99d"/>
<rect x="285.18" y="187.48" width="9.70" height="4.24" fill="#fef8b8"/>
<rect x="285.18" y="191.37" width="9.70" height="4.24" fill="#afd9ea"/>
<rect x="285.18" y="195.26" width="9.70" height="4.24" fill="#89bcdc"/>
<rect x="285.18" y="199.15" width="9.70" height="23.70" fill="#5285be"/>
<rect x="294.52" y="133.00" width="9.70" height="15.92" fill="#89bcdc"/>
<rect x="294.52" y="148.57" width="9.70" height="4.24" fill="#afd9ea"/>
<rect x="294.52" y="152.46" width="9.70" height="8.13" fill="#fef8b8"/>
<rect x="294.52" y="160.24" width="9.70" height="12.02" fill="#fee99d"/>
<rect x="294.52" y="171.91" width="9.70" height="8.13" fill="#fdd283"/>
<rect x="294.52" y="179.70" width="9.70" height="8.13" fill="#fee99d"/>
<rect x="294.52" y="187.48" width="9.70" height="8.13" fill="#89bcdc"/>
<rect x="294.52" y="195.26" width="9.70" height="8.13" fill="#699fcd"/>
<rect x="294.52" y="203.04" width="9.70" height="19.81" fill="#426cb0"/>
<rect x="303.87" y="133.00" width="9.70" height="4.24" fill="#fef8b8"/>
<rect x="303.87" y="136.89" width="9.70" height="4.24" fill="#fee99d"/>
<rect x="303.87" y="140.78" width="9.70" height="8.13" fill="#d6eef5"/>
<rect x="303.87" y="148.57" width="9.70" height="4.24" fill="#fef8b8"/>
<rect x="303.87" y="152.46" width="9.70" height="8.13" fill="#fdd283"/>
<rect x="303.87" y="160.24" width="9.70" height="4.24" fill="#fcb76c"/>
<rect x="303.87" y="164.13" width="9.70" height="12.02" fill="#fa9a58"/>
<rect x="303.87" y="175.80" width="9.70" height="12.02" fill="#fcb76c"/>
<rect x="303.87" y="187.48" width="9.70" height="4.24" fill="#fdd283"/>
<rect x="303.87" y="191.37" width="9.70" height="4.24" fill="#d6eef5"/>
<rect x="303.87" y="195.26" width="9.70" height="8.13" fill="#afd9ea"/>
<rect x="303.87" y="203.04" width="9.70" height="8.13" fill="#d6eef5"/>
<rect x="303.87" y="210.83" width="9.70" height="4.24" fill="#afd9ea"/>
<rect x="303.87" y="214.72" width="9.70" height="8.13" fill="#89bcdc"/>
<rect x="313.22" y="133.00" width="9.70" height="19.81" fill="#ffffff"/>
<rect x="313.22" y="152.46" width="9.70" height="12.02" fill="#fee99d"/>
<rect x="313.22" y="164.13" width="9.70" height="4.24" fill="#fcb76c"/>
<rect x="313.22" y="168.02" width="9.70" height="4.24" fill="#fa9a58"/>
<rect x="313.22" y="171.91" width="9.70" height="12.02" fill="#fcb76c"/>
<rect x="313.22" y="183.59" width="9.70" height="4.24" fill="#fdd283"/>
<rect x="313.22" y="187.48" width="9.70" height="4.24" fill="#fee99d"/>
<rect x="313.22" y="191.37" width="9.70" height="4.24" fill="#fef8b8"/>
<rect x="313.22" y="195.26" width="9.70" height="4.24" fill="#d6eef5"/>
<rect x="313.22" y="199.15" width="9.70" height="8.13" fill="#699fcd"/>
<rect x="313.22" y="206.93" width="9.70" height="4.24" fill="#d6eef5"/>
<rect x="313.22" y="210.83" width="9.70" height="12.02" fill="#fef8b8"/>
<rect x="322.56" y="133.00" width="9.70" height="15.92" fill="#89bcdc"/>
<rect x="322.56" y="148.57" width="9.70" height="8.13" fill="#afd9ea"/>
<rect x="322.56" y="156.35" width="9.70" height="8.13" fill="#d6eef5"/>
<rect x="322.56" y="164.13" width="9.70" height="8.13" fill="#fef8b8"/>
<rect x="322.56" y="171.91" width="9.70" height="4.24" fill="#fee99d"/>
<rect x="322.56" y="175.80" width="9.70" height="4.24" fill="#fdd283"/>
<rect x="322.56" y="179.70" width="9.70" height="43.15" fill="#ffffff"/>
<rect x="331.91" y="133.00" width="9.70" height="15.92" fill="#5285be"/>
<rect x="331.91" y="148.57" width="9.70" height="8.13" fill="#699fcd"/>
<rect x="331.91" y="156.35" width="9.70" height="8.13" fill="#89bcdc"/>
<rect x="331.91" y="164.13" width="9.70" height="12.02" fill="#afd9ea"/>
<rect x="331.91" y="175.80" width="9.70" height="4.24" fill="#d6eef5"/>
<rect x="331.91" y="179.70" width="9.70" height="8.13" fill="#afd9ea"/>
<rect x="331.91" y="187.48" width="9.70" height="4.24" fill="#89bcdc"/>
<rect x="331.91" y="191.37" width="9.70" height="8.13" fill="#699fcd"/>
<rect x="331.91" y="199.15" width="9.70" height="15.92" fill="#5285be"/>
<rect x="331.91" y="214.72" width="9.70" height="8.13" fill="#699fcd"/>
<rect x="341.26" y="133.00" width="9.70" height="8.13" fill="#5285be"/>
<rect x="341.26" y="140.78" width="9.70" height="8.13" fill="#699fcd"/>
<rect x="341.26" y="148.57" width="9.70" height="8.13" fill="#89bcdc"/>
<rect x="341.26" y="156.35" width="9.70" height="8.13" fill="#afd9ea"/>
<rect x="341.26" y="164.13" width="9.70" height="15.92" fill="#fef8b8"/>
<rect x="341.26" y="179.70" width="9.70" height="4.24" fill="#afd9ea"/>
<rect x="341.26" y="183.59" width="9.70" height="4.24" fill="#d6eef5"/>
<rect x="341.26" y="187.48" width="9.70" height="8.13" fill="#89bcdc"/>
<rect x="341.26" y="195.26" width="9.70" height="15.92" fill="#5285be"/>
<rect x="341.26" y="210.83" width="9.70" height="12.02" fill="#3a54a4"/>
<rect x="350.61" y="133.00" width="9.70" height="15.92" fill="#699fcd"/>
<rect x="350.61" y="148.57" width="9.70" height="8.13" fill="#89bcdc"/>
<rect x="350.61" y="156.35" width="9.70" height="4.24" fill="#afd9ea"/>
<rect x="350.61" y="160.24" width="9.70" height="12.02" fill="#fef8b8"/>
<rect x="350.61" y="171.91" width="9.70" height="8.13" fill="#fee99d"/>
<rect x="350.61" y="179.70" width="9.70" height="4.24" fill="#fef8b8"/>
<rect x="350.61" y="183.59" width="9.70" height="4.24" fill="#d6eef5"/>
<rect x="350.61" y="187.48" width="9.70" height="4.24" fill="#afd9ea"/>
<rect x="350.61" y="191.37" width="9.70" height="4.24" fill="#89bcdc"/>
<rect x="350.61" y="195.26" width="9.70" height="4.24" fill="#5285be"/>
<rect x="350.61" y="199.15" width="9.70" height="19.81" fill="#3a54a4"/>
<rect x="350.61" y="218.61" width="9.70" height="4.24" fill="#426cb0"/>
<rect x="359.95" y="133.00" width="9.70" height="8.13" fill="#699fcd"/>
<rect x="359.95" y="140.78" width="9.70" height="12.02" fill="#89bcdc"/>
<rect x="359.95" y="152.46" width="9.70" height="8.13" fill="#afd9ea"/>
<rect x="359.95" y="160.24" width="9.70" height="4.24" fill="#fef8b8"/>
<rect x="359.95" y="164.13" width="9.70" height="19.81" fill="#fdd283"/>
<rect x="359.95" y="183.59" width="9.70" height="4.24" fill="#fee99d"/>
<rect x="359.95" y="187.48" width="9.70" height="4.24" fill="#fef8b8"/>
<rect x="359.95" y="191.37" width="9.70" height="4.24" fill="#afd9ea"/>
<rect x="359.95" y="195.26" width="9.70" height="4.24" fill="#699fcd"/>
<rect x="359.95" y="199.15" width="9.70" height="23.70" fill="#5285be"/>
<rect x="369.30" y="133.00" width="9.70" height="8.13" fill="#699fcd"/>
<rect x="369.30" y="140.78" width="9.70" height="8.13" fill="#89bcdc"/>
<rect x="369.30" y="148.57" width="9.70" height="8.13" fill="#afd9ea"/>
<rect x="369.30" y="156.35" width="9.70" height="4.24" fill="#fef8b8"/>
<rect x="369.30" y="160.24" width="9.70" height="4.24" fill="#fee99d"/>
<rect x="369.30" y="164.13" width="9.70" height="23.70" fill="#fdd283"/>
<rect x="369.30" y="187.48" width="9.70" height="4.24" fill="#fee99d"/>
<rect x="369.30" y="191.37" width="9.70" height="4.24" fill="#d6eef5"/>
<rect x="369.30" y="195.26" width="9.70" height="4.24" fill="#89bcdc"/>
<rect x="369.30" y="199.15" width="9.70" height="23.70" fill="#5285be"/>
<rect x="378.65" y="133.00" width="9.70" height="8.13" fill="#699fcd"/>
<rect x="378.65" y="140.78" width="9.70" height="8.13" fill="#89bcdc"/>
<rect x="378.65" y="148.57" width="9.70" height="8.13" fill="#afd9ea"/>
<rect x="378.65" y="156.35" width="9.70" height="4.24" fill="#fef8b8"/>
<rect x="378.65" y="160.24" width="9.70" height="4.24" fill="#fee99d"/>
<rect x="378.65" y="164.13" width="9.70" height="15.92" fill="#fcb76c"/>
<rect x="378.65" y="179.70" width="9.70" height="4.24" fill="#fdd283"/>
<rect x="378.65" y="183.59" width="9.70" height="4.24" fill="#fcb76c"/>
<rect x="378.65" y="187.48" width="9.70" height="4.24" fill="#fdd283"/>
<rect x="378.65" y="191.37" width="9.70" height="4.24" fill="#fef8b8"/>
<rect x="378.65" y="195.26" width="9.70" height="4.24" fill="#afd9ea"/>
<rect x="378.65" y="199.15" width="9.70" height="23.70" fill="#5285be"/>
<rect x="387.99" y="133.00" width="9.70" height="4.24" fill="#afd9ea"/>
<rect x="387.99" y="136.89" width="9.70" height="15.92" fill="#d6eef5"/>
<rect x="387.99" y="152.46" width="9.70" height="4.24" fill="#fef8b8"/>
<rect x="387.99" y="156.35" width="9.70" height="8.13" fill="#fee99d"/>
<rect x="387.99" y="164.13" width="9.70" height="4.24" fill="#fdd283"/>
<rect x="387.99" y="168.02" width="9.70" height="12.02" fill="#fcb76c"/>
<rect x="387.99" y="179.70" width="9.70" height="12.02" fill="#fdd283"/>
<rect x="387.99" y="191.37" width="9.70" height="4.24" fill="#fef8b8"/>
<rect x="387.99" y="195.26" width="9.70" height="4.24" fill="#89bcdc"/>
<rect x="387.99" y="199.15" width="9.70" height="19.81" fill="#426cb0"/>
<rect x="387.99" y="218.61" width="9.70" height="4.24" fill="#5285be"/>
<rect x="397.34" y="133.00" width="9.70" height="19.81" fill="#fee99d"/>
<rect x="397.34" y="152.46" width="9.70" height="4.24" fill="#fdd283"/>
<rect x="397.34" y="156.35" width="9.70" height="4.24" fill="#fa9a58"/>
<rect x="397.34" y="160.24" width="9.70" height="4.24" fill="#f57a48"/>
<rect x="397.34" y="164.13" width="9.70" height="15.92" fill="#e75c3a"/>
<rect x="397.34" y="179.70" width="9.70" height="8.13" fill="#f57a48"/>
<rect x="397.34" y="187.48" width="9.70" height="4.24" fill="#fa9a58"/>
<rect x="397.34" y="191.37" width="9.70" height="4.24" fill="#fee99d"/>
<rect x="397.34" y="195.26" width="9.70" height="12.02" fill="#fef8b8"/>
<rect x="397.34" y="206.93" width="9.70" height="15.92" fill="#d6eef5"/>
<rect x="406.69" y="133.00" width="9.70" height="8.13" fill="#fef8b8"/>
<rect x="406.69" y="140.78" width="9.70" height="8.13" fill="#fee99d"/>
<rect x="406.69" y="148.57" width="9.70" height="8.13" fill="#fdd283"/>
<rect x="406.69" y="156.35" width="9.70" height="4.24" fill="#fa9a58"/>
<rect x="406.69" y="160.24" width="9.70" height="4.24" fill="#e75c3a"/>
<rect x="406.69" y="164.13" width="9.70" height="15.92" fill="#bf1c27"/>
<rect x="406.69" y="179.70" width="9.70" height="8.13" fill="#e75c3a"/>
<rect x="406.69" y="187.48" width="9.70" height="4.24" fill="#f57a48"/>
<rect x="406.69" y="191.37" width="9.70" height="4.24" fill="#fa9a58"/>
<rect x="406.69" y="195.26" width="9.70" height="4.24" fill="#fdd283"/>
<rect x="406.69" y="199.15" width="9.70" height="23.70" fill="#fee99d"/>
<rect x="416.04" y="133.00" width="9.70" height="8.13" fill="#5285be"/>
<rect x="416.04" y="140.78" width="9.70" height="8.13" fill="#89bcdc"/>
<rect x="416.04" y="148.57" width="9.70" height="4.24" fill="#afd9ea"/>
<rect x="416.04" y="152.46" width="9.70" height="47.05" fill="#d6eef5"/>
<rect x="416.04" y="199.15" width="9.70" height="23.70" fill="#afd9ea"/>
<rect x="425.38" y="133.00" width="9.70" height="8.13" fill="#5285be"/>
<rect x="425.38" y="140.78" width="9.70" height="12.02" fill="#699fcd"/>
<rect x="425.38" y="152.46" width="9.70" height="8.13" fill="#89bcdc"/>
<rect x="425.38" y="160.24" width="9.70" height="4.24" fill="#afd9ea"/>
<rect x="425.38" y="164.13" width="9.70" height="23.70" fill="#d6eef5"/>
<rect x="425.38" y="187.48" width="9.70" height="4.24" fill="#89bcdc"/>
<rect x="425.38" y="191.37" width="9.70" height="4.24" fill="#699fcd"/>
<rect x="425.38" y="195.26" width="9.70" height="27.59" fill="#5285be"/>
<rect x="434.73" y="133.00" width="9.70" height="15.92" fill="#89bcdc"/>
<rect x="434.73" y="148.57" width="9.70" height="8.13" fill="#afd9ea"/>
<rect x="434.73" y="156.35" width="9.70" height="8.13" fill="#fef8b8"/>
<rect x="434.73" y="164.13" width="9.70" height="8.13" fill="#fee99d"/>
<rect x="434.73" y="171.91" width="9.70" height="8.13" fill="#fdd283"/>
<rect x="434.73" y="179.70" width="9.70" height="12.02" fill="#fef8b8"/>
<rect x="434.73" y="191.37" width="9.70" height="4.24" fill="#89bcdc"/>
<rect x="434.73" y="195.26" width="9.70" height="4.24" fill="#5285be"/>
<rect x="434.73" y="199.15" width="9.70" height="4.24" fill="#3a54a4"/>
<rect x="434.73" y="203.04" width="9.70" height="19.81" fill="#343f99"/>
<rect x="444.08" y="133.00" width="9.70" height="15.92" fill="#89bcdc"/>
<rect x="444.08" y="148.57" width="9.70" height="8.13" fill="#afd9ea"/>
<rect x="444.08" y="156.35" width="9.70" height="8.13" fill="#fef8b8"/>
<rect x="444.08" y="164.13" width="9.70" height="4.24" fill="#fee99d"/>
<rect x="444.08" y="168.02" width="9.70" height="4.24" fill="#fdd283"/>
<rect x="444.08" y="171.91" width="9.70" height="8.13" fill="#fcb76c"/>
<rect x="444.08" y="179.70" width="9.70" height="4.24" fill="#fdd283"/>
<rect x="444.08" y="183.59" width="9.70" height="4.24" fill="#fee99d"/>
<rect x="444.08" y="187.48" width="9.70" height="4.24" fill="#fef8b8"/>
<rect x="444.08" y="191.37" width="9.70" height="4.24" fill="#d6eef5"/>
<rect x="444.08" y="195.26" width="9.70" height="4.24" fill="#89bcdc"/>
<rect x="444.08" y="199.15" width="9.70" height="23.70" fill="#5285be"/>
<rect x="453.43" y="133.00" width="9.70" height="4.24" fill="#89bcdc"/>
<rect x="453.43" y="136.89" width="9.70" height="8.13" fill="#699fcd"/>
<rect x="453.43" y="144.67" width="9.70" height="12.02" fill="#89bcdc"/>
<rect x="453.43" y="156.35" width="9.70" height="4.24" fill="#afd9ea"/>
<rect x="453.43" y="160.24" width="9.70" height="4.24" fill="#fef8b8"/>
<rect x="453.43" y="164.13" width="9.70" height="4.24" fill="#fee99d"/>
<rect x="453.43" y="168.02" width="9.70" height="15.92" fill="#fdd283"/>
<rect x="453.43" y="183.59" width="9.70" height="4.24" fill="#fee99d"/>
<rect x="453.43" y="187.48" width="9.70" height="4.24" fill="#d6eef5"/>
<rect x="453.43" y="191.37" width="9.70" height="4.24" fill="#afd9ea"/>
<rect x="453.43" y="195.26" width="9.70" height="4.24" fill="#89bcdc"/>
<rect x="453.43" y="199.15" width="9.70" height="4.24" fill="#699fcd"/>
<rect x="453.43" y="203.04" width="9.70" height="8.13" fill="#5285be"/>
<rect x="453.43" y="210.83" width="9.70" height="12.02" fill="#699fcd"/>
<rect x="462.77" y="133.00" width="9.70" height="8.13" fill="#699fcd"/>
<rect x="462.77" y="140.78" width="9.70" height="8.13" fill="#89bcdc"/>
<rect x="462.77" y="148.57" width="9.70" height="4.24" fill="#afd9ea"/>
<rect x="462.77" y="152.46" width="9.70" height="4.24" fill="#d6eef5"/>
<rect x="462.77" y="156.35" width="9.70" height="4.24" fill="#fee99d"/>
<rect x="462.77" y="160.24" width="9.70" height="4.24" fill="#fdd283"/>
<rect x="462.77" y="164.13" width="9.70" height="8.13" fill="#fcb76c"/>
<rect x="462.77" y="171.91" width="9.70" height="15.92" fill="#fdd283"/>
<rect x="462.77" y="187.48" width="9.70" height="4.24" fill="#fee99d"/>
<rect x="462.77" y="191.37" width="9.70" height="4.24" fill="#fef8b8"/>
<rect x="462.77" y="195.26" width="9.70" height="4.24" fill="#89bcdc"/>
<rect x="462.77" y="199.15" width="9.70" height="4.24" fill="#699fcd"/>
<rect x="462.77" y="203.04" width="9.70" height="4.24" fill="#5285be"/>
<rect x="462.77" y="206.93" width="9.70" height="15.92" fill="#699fcd"/>
<rect x="472.12" y="133.00" width="9.70" height="12.02" fill="#89bcdc"/>
<rect x="472.12" y="144.67" width="9.70" height="4.24" fill="#afd9ea"/>
<rect x="472.12" y="148.57" width="9.70" height="4.24" fill="#d6eef5"/>
<rect x="472.12" y="152.46" width="9.70" height="4.24" fill="#fef8b8"/>
<rect x="472.12" y="156.35" width="9.70" height="4.24" fill="#fee99d"/>
<rect x="472.12" y="160.24" width="9.70" height="4.24" fill="#fdd283"/>
<rect x="472.12" y="164.13" width="9.70" height="8.13" fill="#fa9a58"/>
<rect x="472.12" y="171.91" width="9.70" height="8.13" fill="#fcb76c"/>
<rect x="472.12" y="179.70" width="9.70" height="4.24" fill="#fa9a58"/>
<rect x="472.12" y="183.59" width="9.70" height="4.24" fill="#fcb76c"/>
<rect x="472.12" y="187.48" width="9.70" height="4.24" fill="#fee99d"/>
<rect x="472.12" y="191.37" width="9.70" height="4.24" fill="#fef8b8"/>
<rect x="472.12" y="195.26" width="9.70" height="4.24" fill="#afd9ea"/>
<rect x="472.12" y="199.15" width="9.70" height="4.24" fill="#699fcd"/>
<rect x="472.12" y="203.04" width="9.70" height="19.81" fill="#5285be"/>
<rect x="481.47" y="133.00" width="9.70" height="12.02" fill="#89bcdc"/>
<rect x="481.47" y="144.67" width="9.70" height="4.24" fill="#afd9ea"/>
<rect x="481.47" y="148.57" width="9.70" height="4.24" fill="#d6eef5"/>
<rect x="481.47" y="152.46" width="9.70" height="4.24" fill="#fef8b8"/>
<rect x="481.47" y="156.35" width="9.70" height="4.24" fill="#fee99d"/>
<rect x="481.47" y="160.24" width="9.70" height="4.24" fill="#fcb76c"/>
<rect x="481.47" y="164.13" width="9.70" height="35.37" fill="#ffffff"/>
<rect x="481.47" y="199.15" width="9.70" height="4.24" fill="#d6eef5"/>
<rect x="481.47" y="203.04" width="9.70" height="15.92" fill="#afd9ea"/>
<rect x="481.47" y="218.61" width="9.70" height="4.24" fill="#89bcdc"/>
<rect x="490.81" y="133.00" width="9.70" height="8.13" fill="#afd9ea"/>
<rect x="490.81" y="140.78" width="9.70" height="8.13" fill="#d6eef5"/>
<rect x="490.81" y="148.57" width="9.70" height="8.13" fill="#fef8b8"/>
<rect x="490.81" y="156.35" width="9.70" height="4.24" fill="#fee99d"/>
<rect x="490.81" y="160.24" width="9.70" height="4.24" fill="#fdd283"/>
<rect x="490.81" y="164.13" width="9.70" height="8.13" fill="#fcb76c"/>
<rect x="490.81" y="171.91" width="9.70" height="8.13" fill="#fdd283"/>
<rect x="490.81" y="179.70" width="9.70" height="4.24" fill="#fcb76c"/>
<rect x="490.81" y="183.59" width="9.70" height="4.24" fill="#fdd283"/>
<rect x="490.81" y="187.48" width="9.70" height="4.24" fill="#fee99d"/>
<rect x="490.81" y="191.37" width="9.70" height="4.24" fill="#fef8b8"/>
<rect x="490.81" y="195.26" width="9.70" height="4.24" fill="#afd9ea"/>
<rect x="490.81" y="199.15" width="9.70" height="8.13" fill="#89bcdc"/>
<rect x="490.81" y="206.93" width="9.70" height="4.24" fill="#699fcd"/>
<rect x="490.81" y="210.83" width="9.70" height="12.02" fill="#89bcdc"/>
<rect x="500.16" y="133.00" width="9.70" height="15.92" fill="#89bcdc"/>
<rect x="500.16" y="148.57" width="9.70" height="8.13" fill="#afd9ea"/>
<rect x="500.16" y="156.35" width="9.70" height="4.24" fill="#fef8b8"/>
<rect x="500.16" y="160.24" width="9.70" height="4.24" fill="#fee99d"/>
<rect x="500.16" y="164.13" width="9.70" height="12.02" fill="#fdd283"/>
<rect x="500.16" y="175.80" width="9.70" height="15.92" fill="#fcb76c"/>
<rect x="500.16" y="191.37" width="9.70" height="4.24" fill="#fef8b8"/>
<rect x="500.16" y="195.26" width="9.70" height="4.24" fill="#d6eef5"/>
<rect x="500.16" y="199.15" width="9.70" height="23.70" fill="#89bcdc"/>
<rect x="509.51" y="133.00" width="9.70" height="8.13" fill="#699fcd"/>
<rect x="509.51" y="140.78" width="9.70" height="8.13" fill="#89bcdc"/>
<rect x="509.51" y="148.57" width="9.70" height="8.13" fill="#afd9ea"/>
<rect x="509.51" y="156.35" width="9.70" height="4.24" fill="#d6eef5"/>
<rect x="509.51" y="160.24" width="9.70" height="4.24" fill="#fef8b8"/>
<rect x="509.51" y="164.13" width="9.70" height="23.70" fill="#fee99d"/>
<rect x="509.51" y="187.48" width="9.70" height="4.24" fill="#fef8b8"/>
<rect x="509.51" y="191.37" width="9.70" height="4.24" fill="#afd9ea"/>
<rect x="509.51" y="195.26" width="9.70" height="4.24" fill="#89bcdc"/>
<rect x="509.51" y="199.15" width="9.70" height="23.70" fill="#5285be"/>
<rect x="518.86" y="133.00" width="9.70" height="15.92" fill="#89bcdc"/>
<rect x="518.86" y="148.57" width="9.70" height="8.13" fill="#afd9ea"/>
<rect x="518.86" y="156.35" width="9.70" height="8.13" fill="#fef8b8"/>
<rect x="518.86" y="164.13" width="9.70" height="23.70" fill="#fee99d"/>
<rect x="518.86" y="187.48" width="9.70" height="4.24" fill="#fef8b8"/>
<rect x="518.86" y="191.37" width="9.70" height="4.24" fill="#afd9ea"/>
<rect x="518.86" y="195.26" width="9.70" height="4.24" fill="#699fcd"/>
<rect x="518.86" y="199.15" width="9.70" height="12.02" fill="#426cb0"/>
<rect x="518.86" y="210.83" width="9.70" height="12.02" fill="#5285be"/>
<rect x="528.20" y="133.00" width="9.70" height="15.92" fill="#89bcdc"/>
<rect x="528.20" y="148.57" width="9.70" height="4.24" fill="#afd9ea"/>
<rect x="528.20" y="152.46" width="9.70" height="4.24" fill="#d6eef5"/>
<rect x="528.20" y="156.35" width="9.70" height="4.24" fill="#fef8b8"/>
<rect x="528.20" y="160.24" width="9.70" height="4.24" fill="#fee99d"/>
<rect x="528.20" y="164.13" width="9.70" height="15.92" fill="#fdd283"/>
<rect x="528.20" y="179.70" width="9.70" height="8.13" fill="#fee99d"/>
<rect x="528.20" y="187.48" width="9.70" height="4.24" fill="#fef8b8"/>
<rect x="528.20" y="191.37" width="9.70" height="4.24" fill="#afd9ea"/>
<rect x="528.20" y="195.26" width="9.70" height="4.24" fill="#89bcdc"/>
<rect x="528.20" y="199.15" width="9.70" height="8.13" fill="#5285be"/>
<rect x="528.20" y="206.93" width="9.70" height="12.02" fill="#426cb0"/>
<rect x="528.20" y="218.61" width="9.70" height="4.24" fill="#5285be"/>
<rect x="537.55" y="133.00" width="9.70" height="15.92" fill="#89bcdc"/>
<rect x="537.55" y="148.57" width="9.70" height="4.24" fill="#afd9ea"/>
<rect x="537.55" y="152.46" width="9.70" height="4.24" fill="#d6eef5"/>
<rect x="537.55" y="156.35" width="9.70" height="4.24" fill="#fef8b8"/>
<rect x="537.55" y="160.24" width="9.70" height="4.24" fill="#fee99d"/>
<rect x="537.55" y="164.13" width="9.70" height="23.70" fill="#fdd283"/>
<rect x="537.55" y="187.48" width="9.70" height="4.24" fill="#fee99d"/>
<rect x="537.55" y="191.37" width="9.70" height="4.24" fill="#fef8b8"/>
<rect x="537.55" y="195.26" width="9.70" height="4.24" fill="#89bcdc"/>
<rect x="537.55" y="199.15" width="9.70" height="4.24" fill="#5285be"/>
<rect x="537.55" y="203.04" width="9.70" height="8.13" fill="#426cb0"/>
<rect x="537.55" y="210.83" width="9.70" height="12.02" fill="#5285be"/>
<rect x="546.90" y="133.00" width="9.70" height="8.13" fill="#89bcdc"/>
<rect x="546.90" y="140.78" width="9.70" height="8.13" fill="#afd9ea"/>
<rect x="546.90" y="148.57" width="9.70" height="8.13" fill="#d6eef5"/>
<rect x="546.90" y="156.35" width="9.70" height="4.24" fill="#fef8b8"/>
<rect x="546.90" y="160.24" width="9.70" height="4.24" fill="#fee99d"/>
<rect x="546.90" y="164.13" width="9.70" height="8.13" fill="#fdd283"/>
<rect x="546.90" y="171.91" width="9.70" height="8.13" fill="#fcb76c"/>
<rect x="546.90" y="179.70" width="9.70" height="12.02" fill="#fdd283"/>
<rect x="546.90" y="191.37" width="9.70" height="4.24" fill="#fef8b8"/>
<rect x="546.90" y="195.26" width="9.70" height="4.24" fill="#d6eef5"/>
<rect x="546.90" y="199.15" width="9.70" height="4.24" fill="#699fcd"/>
<rect x="546.90" y="203.04" width="9.70" height="19.81" fill="#5285be"/>
<rect x="556.24" y="133.00" width="9.70" height="8.13" fill="#fef8b8"/>
<rect x="556.24" y="140.78" width="9.70" height="8.13" fill="#fee99d"/>
<rect x="556.24" y="148.57" width="9.70" height="4.24" fill="#fdd283"/>
<rect x="556.24" y="152.46" width="9.70" height="4.24" fill="#fcb76c"/>
<rect x="556.24" y="156.35" width="9.70" height="12.02" fill="#f57a48"/>
<rect x="556.24" y="168.02" width="9.70" height="8.13" fill="#e75c3a"/>
<rect x="556.24" y="175.80" width="9.70" height="4.24" fill="#f57a48"/>
<rect x="556.24" y="179.70" width="9.70" height="8.13" fill="#fa9a58"/>
<rect x="556.24" y="187.48" width="9.70" height="4.24" fill="#fcb76c"/>
<rect x="556.24" y="191.37" width="9.70" height="4.24" fill="#fdd283"/>
<rect x="556.24" y="195.26" width="9.70" height="4.24" fill="#fef8b8"/>
<rect x="556.24" y="199.15" width="9.70" height="4.24" fill="#afd9ea"/>
<rect x="556.24" y="203.04" width="9.70" height="19.81" fill="#89bcdc"/>
<rect x="565.59" y="133.00" width="9.70" height="8.13" fill="#fee99d"/>
<rect x="565.59" y="140.78" width="9.70" height="8.13" fill="#fdd283"/>
<rect x="565.59" y="148.57" width="9.70" height="4.24" fill="#fa9a58"/>
<rect x="565.59" y="152.46" width="9.70" height="4.24" fill="#e75c3a"/>
<rect x="565.59" y="156.35" width="9.70" height="4.24" fill="#d63b2d"/>
<rect x="565.59" y="160.24" width="9.70" height="19.81" fill="#bf1c27"/>
<rect x="565.59" y="179.70" width="9.70" height="4.24" fill="#d63b2d"/>
<rect x="565.59" y="183.59" width="9.70" height="8.13" fill="#e75c3a"/>
<rect x="565.59" y="191.37" width="9.70" height="8.13" fill="#f57a48"/>
<rect x="565.59" y="199.15" width="9.70" height="4.24" fill="#fcb76c"/>
<rect x="565.59" y="203.04" width="9.70" height="4.24" fill="#fee99d"/>
<rect x="565.59" y="206.93" width="9.70" height="15.92" fill="#fef8b8"/>
<rect x="574.94" y="133.00" width="9.70" height="78.18" fill="#ffffff"/>
<rect x="574.94" y="210.83" width="9.70" height="8.13" fill="#d6eef5"/>
<rect x="574.94" y="218.61" width="9.70" height="4.24" fill="#ffffff"/>
<rect x="584.29" y="133.00" width="9.70" height="15.92" fill="#699fcd"/>
<rect x="584.29" y="148.57" width="9.70" height="4.24" fill="#afd9ea"/>
<rect x="584.29" y="152.46" width="9.70" height="4.24" fill="#d6eef5"/>
<rect x="584.29" y="156.35" width="9.70" height="4.24" fill="#fee99d"/>
<rect x="584.29" y="160.24" width="9.70" height="8.13" fill="#fdd283"/>
<rect x="584.29" y="168.02" width="9.70" height="8.13" fill="#fcb76c"/>
<rect x="584.29" y="175.80" width="9.70" height="47.05" fill="#ffffff"/>
<rect x="593.63" y="133.00" width="9.70" height="8.13" fill="#afd9ea"/>
<rect x="593.63" y="140.78" width="9.70" height="8.13" fill="#d6eef5"/>
<rect x="593.63" y="148.57" width="9.70" height="8.13" fill="#fef8b8"/>
<rect x="593.63" y="156.35" width="9.70" height="4.24" fill="#fee99d"/>
<rect x="593.63" y="160.24" width="9.70" height="27.59" fill="#fdd283"/>
<rect x="593.63" y="187.48" width="9.70" height="4.24" fill="#fee99d"/>
<rect x="593.63" y="191.37" width="9.70" height="4.24" fill="#fef8b8"/>
<rect x="593.63" y="195.26" width="9.70" height="4.24" fill="#89bcdc"/>
<rect x="593.63" y="199.15" width="9.70" height="23.70" fill="#5285be"/>
<rect x="602.98" y="133.00" width="9.70" height="8.13" fill="#fef8b8"/>
<rect x="602.98" y="140.78" width="9.70" height="8.13" fill="#fee99d"/>
<rect x="602.98" y="148.57" width="9.70" height="8.13" fill="#fdd283"/>
<rect x="602.98" y="156.35" width="9.70" height="8.13" fill="#fcb76c"/>
<rect x="602.98" y="164.13" width="9.70" height="23.70" fill="#f57a48"/>
<rect x="602.98" y="187.48" width="9.70" height="4.24" fill="#fa9a58"/>
<rect x="602.98" y="191.37" width="9.70" height="4.24" fill="#fdd283"/>
<rect x="602.98" y="195.26" width="9.70" height="4.24" fill="#fef8b8"/>
<rect x="602.98" y="199.15" width="9.70" height="23.70" fill="#89bcdc"/>
<rect x="612.33" y="133.00" width="9.70" height="8.13" fill="#fef8b8"/>
<rect x="612.33" y="140.78" width="9.70" height="8.13" fill="#fee99d"/>
<rect x="612.33" y="148.57" width="9.70" height="8.13" fill="#fcb76c"/>
<rect x="612.33" y="156.35" width="9.70" height="4.24" fill="#fa9a58"/>
<rect x="612.33" y="160.24" width="9.70" height="4.24" fill="#f57a48"/>
<rect x="612.33" y="164.13" width="9.70" height="4.24" fill="#e75c3a"/>
<rect x="612.33" y="168.02" width="9.70" height="12.02" fill="#d63b2d"/>
<rect x="612.33" y="179.70" width="9.70" height="8.13" fill="#e75c3a"/>
<rect x="612.33" y="187.48" width="9.70" height="4.24" fill="#f57a48"/>
<rect x="612.33" y="191.37" width="9.70" height="4.24" fill="#fa9a58"/>
<rect x="612.33" y="195.26" width="9.70" height="4.24" fill="#fdd283"/>
<rect x="612.33" y="199.15" width="9.70" height="8.13" fill="#d6eef5"/>
<rect x="612.33" y="206.93" width="9.70" height="8.13" fill="#afd9ea"/>
<rect x="612.33" y="214.72" width="9.70" height="4.24" fill="#d6eef5"/>
<rect x="612.33" y="218.61" width="9.70" height="4.24" fill="#afd9ea"/>
<rect x="621.67" y="133.00" width="9.70" height="8.13" fill="#afd9ea"/>
<rect x="621.67" y="140.78" width="9.70" height="4.24" fill="#d6eef5"/>
<rect x="621.67" y="144.67" width="9.70" height="8.13" fill="#fef8b8"/>
<rect x="621.67" y="152.46" width="9.70" height="4.24" fill="#fdd283"/>
<rect x="621.67" y="156.35" width="9.70" height="4.24" fill="#fcb76c"/>
<rect x="621.67" y="160.24" width="9.70" height="8.13" fill="#f57a48"/>
<rect x="621.67" y="168.02" width="9.70" height="19.81" fill="#e75c3a"/>
<rect x="621.67" y="187.48" width="9.70" height="4.24" fill="#f57a48"/>
<rect x="621.67" y="191.37" width="9.70" height="4.24" fill="#fa9a58"/>
<rect x="621.67" y="195.26" width="9.70" height="4.24" fill="#fee99d"/>
<rect x="621.67" y="199.15" width="9.70" height="4.24" fill="#fef8b8"/>
<rect x="621.67" y="203.04" width="9.70" height="8.13" fill="#d6eef5"/>
<rect x="621.67" y="210.83" width="9.70" height="12.02" fill="#fef8b8"/>
<rect x="631.02" y="133.00" width="9.70" height="4.24" fill="#afd9ea"/>
<rect x="631.02" y="136.89" width="9.70" height="15.92" fill="#d6eef5"/>
<rect x="631.02" y="152.46" width="9.70" height="4.24" fill="#fee99d"/>
<rect x="631.02" y="156.35" width="9.70" height="4.24" fill="#fdd283"/>
<rect x="631.02" y="160.24" width="9.70" height="4.24" fill="#fcb76c"/>
<rect x="631.02" y="164.13" width="9.70" height="8.13" fill="#fa9a58"/>
<rect x="631.02" y="171.91" width="9.70" height="8.13" fill="#f57a48"/>
<rect x="631.02" y="179.70" width="9.70" height="8.13" fill="#fa9a58"/>
<rect x="631.02" y="187.48" width="9.70" height="4.24" fill="#fdd283"/>
<rect x="631.02" y="191.37" width="9.70" height="4.24" fill="#fee99d"/>
<rect x="631.02" y="195.26" width="9.70" height="4.24" fill="#d6eef5"/>
<rect x="631.02" y="199.15" width="9.70" height="4.24" fill="#89bcdc"/>
<rect x="631.02" y="203.04" width="9.70" height="12.02" fill="#699fcd"/>
<rect x="631.02" y="214.72" width="9.70" height="8.13" fill="#89bcdc"/>
<rect x="640.37" y="133.00" width="9.70" height="15.92" fill="#d6eef5"/>
<rect x="640.37" y="148.57" width="9.70" height="8.13" fill="#fef8b8"/>
<rect x="640.37" y="156.35" width="9.70" height="4.24" fill="#fee99d"/>
<rect x="640.37" y="160.24" width="9.70" height="4.24" fill="#fdd283"/>
<rect x="640.37" y="164.13" width="9.70" height="8.13" fill="#fa9a58"/>
<rect x="640.37" y="171.91" width="9.70" height="4.24" fill="#f57a48"/>
<rect x="640.37" y="175.80" width="9.70" height="4.24" fill="#e75c3a"/>
<rect x="640.37" y="179.70" width="9.70" height="8.13" fill="#f57a48"/>
<rect x="640.37" y="187.48" width="9.70" height="4.24" fill="#fa9a58"/>
<rect x="640.37" y="191.37" width="9.70" height="4.24" fill="#fdd283"/>
<rect x="640.37" y="195.26" width="9.70" height="4.24" fill="#fef8b8"/>
<rect x="640.37" y="199.15" width="9.70" height="4.24" fill="#afd9ea"/>
<rect x="640.37" y="203.04" width="9.70" height="12.02" fill="#89bcdc"/>
<rect x="640.37" y="214.72" width="9.70" height="8.13" fill="#afd9ea"/>
<rect x="649.72" y="133.00" width="9.70" height="15.92" fill="#fee99d"/>
<rect x="649.72" y="148.57" width="9.70" height="4.24" fill="#fdd283"/>
<rect x="649.72" y="152.46" width="9.70" height="4.24" fill="#fcb76c"/>
<rect x="649.72" y="156.35" width="9.70" height="8.13" fill="#fa9a58"/>
<rect x="649.72" y="164.13" width="9.70" height="8.13" fill="#f57a48"/>
<rect x="649.72" y="171.91" width="9.70" height="4.24" fill="#e75c3a"/>
<rect x="649.72" y="175.80" width="9.70" height="4.24" fill="#d63b2d"/>
<rect x="649.72" y="179.70" width="9.70" height="8.13" fill="#f57a48"/>
<rect x="649.72" y="187.48" width="9.70" height="8.13" fill="#fa9a58"/>
<rect x="649.72" y="195.26" width="9.70" height="4.24" fill="#fee99d"/>
<rect x="649.72" y="199.15" width="9.70" height="8.13" fill="#d6eef5"/>
<rect x="649.72" y="206.93" width="9.70" height="15.92" fill="#afd9ea"/>
<rect x="659.06" y="133.00" width="9.70" height="15.92" fill="#89bcdc"/>
<rect x="659.06" y="148.57" width="9.70" height="8.13" fill="#afd9ea"/>
<rect x="659.06" y="156.35" width="9.70" height="4.24" fill="#fef8b8"/>
<rect x="659.06" y="160.24" width="9.70" height="31.48" fill="#fee99d"/>
<rect x="659.06" y="191.37" width="9.70" height="4.24" fill="#fef8b8"/>
<rect x="659.06" y="195.26" width="9.70" height="4.24" fill="#d6eef5"/>
<rect x="659.06" y="199.15" width="9.70" height="8.13" fill="#afd9ea"/>
<rect x="659.06" y="206.93" width="9.70" height="15.92" fill="#fef8b8"/>
<rect x="668.41" y="133.00" width="9.70" height="15.92" fill="#699fcd"/>
<rect x="668.41" y="148.57" width="9.70" height="8.13" fill="#89bcdc"/>
<rect x="668.41" y="156.35" width="9.70" height="4.24" fill="#d6eef5"/>
<rect x="668.41" y="160.24" width="9.70" height="15.92" fill="#fef8b8"/>
<rect x="668.41" y="175.80" width="9.70" height="4.24" fill="#fee99d"/>
<rect x="668.41" y="179.70" width="9.70" height="8.13" fill="#fef8b8"/>
<rect x="668.41" y="187.48" width="9.70" height="4.24" fill="#d6eef5"/>
<rect x="668.41" y="191.37" width="9.70" height="4.24" fill="#afd9ea"/>
<rect x="668.41" y="195.26" width="9.70" height="4.24" fill="#89bcdc"/>
<rect x="668.41" y="199.15" width="9.70" height="23.70" fill="#699fcd"/>
<rect x="677.76" y="133.00" width="9.70" height="8.13" fill="#5285be"/>
<rect x="677.76" y="140.78" width="9.70" height="8.13" fill="#699fcd"/>
<rect x="677.76" y="148.57" width="9.70" height="4.24" fill="#89bcdc"/>
<rect x="677.76" y="152.46" width="9.70" height="4.24" fill="#afd9ea"/>
<rect x="677.76" y="156.35" width="9.70" height="4.24" fill="#d6eef5"/>
<rect x="677.76" y="160.24" width="9.70" height="8.13" fill="#fef8b8"/>
<rect x="677.76" y="168.02" width="9.70" height="12.02" fill="#fee99d"/>
<rect x="677.76" y="179.70" width="9.70" height="8.13" fill="#d6eef5"/>
<rect x="677.76" y="187.48" width="9.70" height="4.24" fill="#afd9ea"/>
<rect x="677.76" y="191.37" width="9.70" height="4.24" fill="#89bcdc"/>
<rect x="677.76" y="195.26" width="9.70" height="4.24" fill="#699fcd"/>
<rect x="677.76" y="199.15" width="9.70" height="15.92" fill="#5285be"/>
<rect x="677.76" y="214.72" width="9.70" height="8.13" fill="#699fcd"/>
<rect x="687.11" y="133.00" width="9.70" height="15.92" fill="#fef8b8"/>
<rect x="687.11" y="148.57" width="9.70" height="4.24" fill="#fee99d"/>
<rect x="687.11" y="152.46" width="9.70" height="4.24" fill="#fdd283"/>
<rect x="687.11" y="156.35" width="9.70" height="4.24" fill="#fcb76c"/>
<rect x="687.11" y="160.24" width="9.70" height="12.02" fill="#f57a48"/>
<rect x="687.11" y="171.91" width="9.70" height="4.24" fill="#fa9a58"/>
<rect x="687.11" y="175.80" width="9.70" height="12.02" fill="#fcb76c"/>
<rect x="687.11" y="187.48" width="9.70" height="4.24" fill="#fdd283"/>
<rect x="687.11" y="191.37" width="9.70" height="4.24" fill="#fee99d"/>
<rect x="687.11" y="195.26" width="9.70" height="4.24" fill="#fef8b8"/>
<rect x="687.11" y="199.15" width="9.70" height="8.13" fill="#89bcdc"/>
<rect x="687.11" y="206.93" width="9.70" height="15.92" fill="#699fcd"/>
<rect x="696.45" y="133.00" width="9.70" height="15.92" fill="#89bcdc"/>
<rect x="696.45" y="148.57" width="9.70" height="8.13" fill="#afd9ea"/>
<rect x="696.45" y="156.35" width="9.70" height="4.24" fill="#d6eef5"/>
<rect x="696.45" y="160.24" width="9.70" height="27.59" fill="#fef8b8"/>
<rect x="696.45" y="187.48" width="9.70" height="8.13" fill="#d6eef5"/>
<rect x="696.45" y="195.26" width="9.70" height="27.59" fill="#afd9ea"/></g>
<rect x="32.80" y="133.00" width="673.00" height="89.50" fill="none" stroke="rgba(20,20,40,0.55)" stroke-width="0.9"/>
<text x="107.58" y="234.20" class="tl" text-anchor="middle">80</text>
<text x="201.05" y="234.20" class="tl" text-anchor="middle">90</text>
<text x="294.52" y="234.20" class="tl" text-anchor="middle">100</text>
<text x="387.99" y="234.20" class="tl" text-anchor="middle">110</text>
<text x="481.47" y="234.20" class="tl" text-anchor="middle">120</text>
<text x="574.94" y="234.20" class="tl" text-anchor="middle">130</text>
<text x="668.41" y="234.20" class="tl" text-anchor="middle">140</text>
<rect x="331.91" y="133.00" width="93.47" height="89.50" fill="none" stroke="#db3a33" stroke-width="1.4"/>
<text x="28.8" y="225.60" class="tl" text-anchor="end">0</text>
<text x="28.8" y="202.25" class="tl" text-anchor="end">6</text>
<text x="28.8" y="178.90" class="tl" text-anchor="end">12</text>
<text x="28.8" y="155.56" class="tl" text-anchor="end">18</text>
<text x="28.8" y="136.10" class="tl" text-anchor="end">24</text>
<text id="todb" transform="translate(11.9,177.8) rotate(-90)" class="ms" text-anchor="middle" style="font-size:13.3px;letter-spacing:0.75px;fill:#555555">Time of day</text>
<text id="tb" x="367.2" y="128.6" class="ms" text-anchor="middle" style="font-size:13px;letter-spacing:0.3px">T<tspan dy="1.7" style="font-size:9px">air</tspan><tspan dy="-1.7" style="font-style:normal"> (</tspan><tspan dy="-4" style="font-size:8.5px">o</tspan><tspan dy="4">C</tspan><tspan style="font-style:normal">)</tspan></text>
<text id="lb" x="686" y="144.3" class="ms" style="font-style:normal;font-size:12.5px">(b)</text>
<rect x="736.00" y="219.94" width="8.50" height="2.86" fill="#333b98"/>
<rect x="736.00" y="217.39" width="8.50" height="2.86" fill="#36469d"/>
<rect x="736.00" y="214.83" width="8.50" height="2.86" fill="#3951a2"/>
<rect x="736.00" y="212.27" width="8.50" height="2.86" fill="#3d5ca8"/>
<rect x="736.00" y="209.71" width="8.50" height="2.86" fill="#4168ae"/>
<rect x="736.00" y="207.16" width="8.50" height="2.86" fill="#4674b4"/>
<rect x="736.00" y="204.60" width="8.50" height="2.86" fill="#4f80bb"/>
<rect x="736.00" y="202.04" width="8.50" height="2.86" fill="#588dc3"/>
<rect x="736.00" y="199.49" width="8.50" height="2.86" fill="#649aca"/>
<rect x="736.00" y="196.93" width="8.50" height="2.86" fill="#73a9d2"/>
<rect x="736.00" y="194.37" width="8.50" height="2.86" fill="#82b7d9"/>
<rect x="736.00" y="191.81" width="8.50" height="2.86" fill="#95c5e0"/>
<rect x="736.00" y="189.26" width="8.50" height="2.86" fill="#a8d4e7"/>
<rect x="736.00" y="186.70" width="8.50" height="2.86" fill="#bbe0ed"/>
<rect x="736.00" y="184.14" width="8.50" height="2.86" fill="#cfeaf3"/>
<rect x="736.00" y="181.59" width="8.50" height="2.86" fill="#e2f3f5"/>
<rect x="736.00" y="179.03" width="8.50" height="2.86" fill="#f6f9da"/>
<rect x="736.00" y="176.47" width="8.50" height="2.86" fill="#fef3b0"/>
<rect x="736.00" y="173.91" width="8.50" height="2.86" fill="#feeca2"/>
<rect x="736.00" y="171.36" width="8.50" height="2.86" fill="#fee495"/>
<rect x="736.00" y="168.80" width="8.50" height="2.86" fill="#fed788"/>
<rect x="736.00" y="166.24" width="8.50" height="2.86" fill="#fdca7b"/>
<rect x="736.00" y="163.69" width="8.50" height="2.86" fill="#fdbd70"/>
<rect x="736.00" y="161.13" width="8.50" height="2.86" fill="#fcaf66"/>
<rect x="736.00" y="158.57" width="8.50" height="2.86" fill="#fba15c"/>
<rect x="736.00" y="156.01" width="8.50" height="2.86" fill="#f89154"/>
<rect x="736.00" y="153.46" width="8.50" height="2.86" fill="#f6814c"/>
<rect x="736.00" y="150.90" width="8.50" height="2.86" fill="#f17244"/>
<rect x="736.00" y="148.34" width="8.50" height="2.86" fill="#eb633d"/>
<rect x="736.00" y="145.79" width="8.50" height="2.86" fill="#e45436"/>
<rect x="736.00" y="143.23" width="8.50" height="2.86" fill="#da4330"/>
<rect x="736.00" y="140.67" width="8.50" height="2.86" fill="#d1322a"/>
<rect x="736.00" y="138.11" width="8.50" height="2.86" fill="#c52327"/>
<rect x="736.00" y="135.56" width="8.50" height="2.86" fill="#b81526"/>
<rect x="736.00" y="133.00" width="8.50" height="2.86" fill="#ab0726"/>
<rect x="736.00" y="133.00" width="8.50" height="89.50" fill="none" stroke="rgba(40,40,40,0.45)" stroke-width="0.7"/>
<line x1="742.50" y1="210.16" x2="744.50" y2="210.16" stroke="#333" stroke-width="0.7"/>
<text x="748.2" y="213.36" class="tl" style="font-size:8.2px">10</text>
<line x1="742.50" y1="184.44" x2="744.50" y2="184.44" stroke="#333" stroke-width="0.7"/>
<text x="748.2" y="187.64" class="tl" style="font-size:8.2px">20</text>
<line x1="742.50" y1="158.72" x2="744.50" y2="158.72" stroke="#333" stroke-width="0.7"/>
<text x="748.2" y="161.92" class="tl" style="font-size:8.2px">30</text>
<line x1="742.50" y1="133.00" x2="744.50" y2="133.00" stroke="#333" stroke-width="0.7"/>
<text x="748.2" y="136.20" class="tl" style="font-size:8.2px">40</text>
<g shape-rendering="crispEdges"><rect x="32.80" y="262.50" width="9.70" height="12.05" fill="#fef3a6"/>
<rect x="32.80" y="274.20" width="9.70" height="8.15" fill="#fede8c"/>
<rect x="32.80" y="282.00" width="9.70" height="4.25" fill="#dceef5"/>
<rect x="32.80" y="285.90" width="9.70" height="8.15" fill="#7aafd5"/>
<rect x="32.80" y="293.70" width="9.70" height="8.15" fill="#5f94c8"/>
<rect x="32.80" y="301.50" width="9.70" height="8.15" fill="#4d7dbc"/>
<rect x="32.80" y="309.30" width="9.70" height="4.25" fill="#5f94c8"/>
<rect x="32.80" y="313.20" width="9.70" height="4.25" fill="#7aafd5"/>
<rect x="32.80" y="317.10" width="9.70" height="4.25" fill="#a0cce3"/>
<rect x="32.80" y="321.00" width="9.70" height="4.25" fill="#c7e3ef"/>
<rect x="32.80" y="324.90" width="9.70" height="4.25" fill="#dceef5"/>
<rect x="32.80" y="328.80" width="9.70" height="23.75" fill="#fef9b4"/>
<rect x="42.15" y="262.50" width="9.70" height="4.25" fill="#fef3a6"/>
<rect x="42.15" y="266.40" width="9.70" height="4.25" fill="#fede8c"/>
<rect x="42.15" y="270.30" width="9.70" height="8.15" fill="#fbb469"/>
<rect x="42.15" y="278.10" width="9.70" height="4.25" fill="#fef3a6"/>
<rect x="42.15" y="282.00" width="9.70" height="4.25" fill="#dceef5"/>
<rect x="42.15" y="285.90" width="9.70" height="4.25" fill="#7aafd5"/>
<rect x="42.15" y="289.80" width="9.70" height="19.85" fill="#5f94c8"/>
<rect x="42.15" y="309.30" width="9.70" height="12.05" fill="#4d7dbc"/>
<rect x="42.15" y="321.00" width="9.70" height="4.25" fill="#5f94c8"/>
<rect x="42.15" y="324.90" width="9.70" height="4.25" fill="#fefefd"/>
<rect x="42.15" y="328.80" width="9.70" height="8.15" fill="#fef9b4"/>
<rect x="42.15" y="336.60" width="9.70" height="8.15" fill="#fef3a6"/>
<rect x="42.15" y="344.40" width="9.70" height="8.15" fill="#fef9b4"/>
<rect x="51.49" y="262.50" width="9.70" height="23.75" fill="#fef3a6"/>
<rect x="51.49" y="285.90" width="9.70" height="12.05" fill="#7aafd5"/>
<rect x="51.49" y="297.60" width="9.70" height="15.95" fill="#5f94c8"/>
<rect x="51.49" y="313.20" width="9.70" height="12.05" fill="#4d7dbc"/>
<rect x="51.49" y="324.90" width="9.70" height="4.25" fill="#fefefd"/>
<rect x="51.49" y="328.80" width="9.70" height="8.15" fill="#fef9b4"/>
<rect x="51.49" y="336.60" width="9.70" height="8.15" fill="#fef3a6"/>
<rect x="51.49" y="344.40" width="9.70" height="8.15" fill="#fef9b4"/>
<rect x="60.84" y="262.50" width="9.70" height="8.15" fill="#fef3a6"/>
<rect x="60.84" y="270.30" width="9.70" height="4.25" fill="#fede8c"/>
<rect x="60.84" y="274.20" width="9.70" height="8.15" fill="#fef3a6"/>
<rect x="60.84" y="282.00" width="9.70" height="4.25" fill="#dceef5"/>
<rect x="60.84" y="285.90" width="9.70" height="15.95" fill="#5f94c8"/>
<rect x="60.84" y="301.50" width="9.70" height="8.15" fill="#4d7dbc"/>
<rect x="60.84" y="309.30" width="9.70" height="8.15" fill="#5f94c8"/>
<rect x="60.84" y="317.10" width="9.70" height="4.25" fill="#a0cce3"/>
<rect x="60.84" y="321.00" width="9.70" height="4.25" fill="#c7e3ef"/>
<rect x="60.84" y="324.90" width="9.70" height="4.25" fill="#fefefd"/>
<rect x="60.84" y="328.80" width="9.70" height="8.15" fill="#fef9b4"/>
<rect x="60.84" y="336.60" width="9.70" height="8.15" fill="#fef3a6"/>
<rect x="60.84" y="344.40" width="9.70" height="8.15" fill="#fef9b4"/>
<rect x="70.19" y="262.50" width="9.70" height="15.95" fill="#fef3a6"/>
<rect x="70.19" y="278.10" width="9.70" height="8.15" fill="#fede8c"/>
<rect x="70.19" y="285.90" width="9.70" height="4.25" fill="#dceef5"/>
<rect x="70.19" y="289.80" width="9.70" height="4.25" fill="#a0cce3"/>
<rect x="70.19" y="293.70" width="9.70" height="8.15" fill="#7aafd5"/>
<rect x="70.19" y="301.50" width="9.70" height="8.15" fill="#4d7dbc"/>
<rect x="70.19" y="309.30" width="9.70" height="4.25" fill="#4168b0"/>
<rect x="70.19" y="313.20" width="9.70" height="8.15" fill="#4d7dbc"/>
<rect x="70.19" y="321.00" width="9.70" height="4.25" fill="#5f94c8"/>
<rect x="70.19" y="324.90" width="9.70" height="4.25" fill="#fefefd"/>
<rect x="70.19" y="328.80" width="9.70" height="4.25" fill="#fef9b4"/>
<rect x="70.19" y="332.70" width="9.70" height="12.05" fill="#fef3a6"/>
<rect x="70.19" y="344.40" width="9.70" height="8.15" fill="#fef9b4"/>
<rect x="79.54" y="262.50" width="9.70" height="4.25" fill="#fef3a6"/>
<rect x="79.54" y="266.40" width="9.70" height="4.25" fill="#fede8c"/>
<rect x="79.54" y="270.30" width="9.70" height="4.25" fill="#fef3a6"/>
<rect x="79.54" y="274.20" width="9.70" height="4.25" fill="#fefefd"/>
<rect x="79.54" y="278.10" width="9.70" height="8.15" fill="#fef3a6"/>
<rect x="79.54" y="285.90" width="9.70" height="4.25" fill="#c7e3ef"/>
<rect x="79.54" y="289.80" width="9.70" height="4.25" fill="#fefefd"/>
<rect x="79.54" y="293.70" width="9.70" height="8.15" fill="#a0cce3"/>
<rect x="79.54" y="301.50" width="9.70" height="4.25" fill="#c7e3ef"/>
<rect x="79.54" y="305.40" width="9.70" height="4.25" fill="#fefefd"/>
<rect x="79.54" y="309.30" width="9.70" height="4.25" fill="#a0cce3"/>
<rect x="79.54" y="313.20" width="9.70" height="8.15" fill="#7aafd5"/>
<rect x="79.54" y="321.00" width="9.70" height="4.25" fill="#a0cce3"/>
<rect x="79.54" y="324.90" width="9.70" height="4.25" fill="#fefefd"/>
<rect x="79.54" y="328.80" width="9.70" height="8.15" fill="#fef9b4"/>
<rect x="79.54" y="336.60" width="9.70" height="8.15" fill="#fef3a6"/>
<rect x="79.54" y="344.40" width="9.70" height="8.15" fill="#fef9b4"/>
<rect x="88.88" y="262.50" width="9.70" height="8.15" fill="#fef3a6"/>
<rect x="88.88" y="270.30" width="9.70" height="4.25" fill="#fede8c"/>
<rect x="88.88" y="274.20" width="9.70" height="8.15" fill="#fef3a6"/>
<rect x="88.88" y="282.00" width="9.70" height="4.25" fill="#dceef5"/>
<rect x="88.88" y="285.90" width="9.70" height="4.25" fill="#5f94c8"/>
<rect x="88.88" y="289.80" width="9.70" height="8.15" fill="#4d7dbc"/>
<rect x="88.88" y="297.60" width="9.70" height="4.25" fill="#5f94c8"/>
<rect x="88.88" y="301.50" width="9.70" height="4.25" fill="#4d7dbc"/>
<rect x="88.88" y="305.40" width="9.70" height="4.25" fill="#4168b0"/>
<rect x="88.88" y="309.30" width="9.70" height="8.15" fill="#4d7dbc"/>
<rect x="88.88" y="317.10" width="9.70" height="4.25" fill="#5f94c8"/>
<rect x="88.88" y="321.00" width="9.70" height="4.25" fill="#7aafd5"/>
<rect x="88.88" y="324.90" width="9.70" height="4.25" fill="#fefefd"/>
<rect x="88.88" y="328.80" width="9.70" height="4.25" fill="#fef9b4"/>
<rect x="88.88" y="332.70" width="9.70" height="4.25" fill="#fef3a6"/>
<rect x="88.88" y="336.60" width="9.70" height="8.15" fill="#fbb469"/>
<rect x="88.88" y="344.40" width="9.70" height="8.15" fill="#fef9b4"/>
<rect x="98.23" y="262.50" width="9.70" height="19.85" fill="#fef3a6"/>
<rect x="98.23" y="282.00" width="9.70" height="4.25" fill="#c7e3ef"/>
<rect x="98.23" y="285.90" width="9.70" height="4.25" fill="#5f94c8"/>
<rect x="98.23" y="289.80" width="9.70" height="19.85" fill="#4d7dbc"/>
<rect x="98.23" y="309.30" width="9.70" height="12.05" fill="#5f94c8"/>
<rect x="98.23" y="321.00" width="9.70" height="4.25" fill="#a0cce3"/>
<rect x="98.23" y="324.90" width="9.70" height="8.15" fill="#fefefd"/>
<rect x="98.23" y="332.70" width="9.70" height="19.85" fill="#fef9b4"/>
<rect x="107.58" y="262.50" width="9.70" height="8.15" fill="#fef3a6"/>
<rect x="107.58" y="270.30" width="9.70" height="8.15" fill="#fede8c"/>
<rect x="107.58" y="278.10" width="9.70" height="4.25" fill="#fef3a6"/>
<rect x="107.58" y="282.00" width="9.70" height="4.25" fill="#dceef5"/>
<rect x="107.58" y="285.90" width="9.70" height="4.25" fill="#c7e3ef"/>
<rect x="107.58" y="289.80" width="9.70" height="4.25" fill="#a0cce3"/>
<rect x="107.58" y="293.70" width="9.70" height="4.25" fill="#7aafd5"/>
<rect x="107.58" y="297.60" width="9.70" height="4.25" fill="#5f94c8"/>
<rect x="107.58" y="301.50" width="9.70" height="4.25" fill="#4d7dbc"/>
<rect x="107.58" y="305.40" width="9.70" height="4.25" fill="#3755a5"/>
<rect x="107.58" y="309.30" width="9.70" height="4.25" fill="#4168b0"/>
<rect x="107.58" y="313.20" width="9.70" height="4.25" fill="#4d7dbc"/>
<rect x="107.58" y="317.10" width="9.70" height="4.25" fill="#5f94c8"/>
<rect x="107.58" y="321.00" width="9.70" height="4.25" fill="#c7e3ef"/>
<rect x="107.58" y="324.90" width="9.70" height="4.25" fill="#fefefd"/>
<rect x="107.58" y="328.80" width="9.70" height="4.25" fill="#fef9b4"/>
<rect x="107.58" y="332.70" width="9.70" height="12.05" fill="#fef3a6"/>
<rect x="107.58" y="344.40" width="9.70" height="8.15" fill="#fef9b4"/>
<rect x="116.92" y="262.50" width="9.70" height="12.05" fill="#fef3a6"/>
<rect x="116.92" y="274.20" width="9.70" height="8.15" fill="#fede8c"/>
<rect x="116.92" y="282.00" width="9.70" height="12.05" fill="#dceef5"/>
<rect x="116.92" y="293.70" width="9.70" height="4.25" fill="#fefefd"/>
<rect x="116.92" y="297.60" width="9.70" height="4.25" fill="#a0cce3"/>
<rect x="116.92" y="301.50" width="9.70" height="8.15" fill="#7aafd5"/>
<rect x="116.92" y="309.30" width="9.70" height="8.15" fill="#5f94c8"/>
<rect x="116.92" y="317.10" width="9.70" height="4.25" fill="#7aafd5"/>
<rect x="116.92" y="321.00" width="9.70" height="4.25" fill="#dceef5"/>
<rect x="116.92" y="324.90" width="9.70" height="4.25" fill="#fefefd"/>
<rect x="116.92" y="328.80" width="9.70" height="23.75" fill="#fef9b4"/>
<rect x="126.27" y="262.50" width="9.70" height="8.15" fill="#fef3a6"/>
<rect x="126.27" y="270.30" width="9.70" height="4.25" fill="#fede8c"/>
<rect x="126.27" y="274.20" width="9.70" height="8.15" fill="#f89a51"/>
<rect x="126.27" y="282.00" width="9.70" height="4.25" fill="#fede8c"/>
<rect x="126.27" y="285.90" width="9.70" height="8.15" fill="#7aafd5"/>
<rect x="126.27" y="293.70" width="9.70" height="8.15" fill="#5f94c8"/>
<rect x="126.27" y="301.50" width="9.70" height="8.15" fill="#4d7dbc"/>
<rect x="126.27" y="309.30" width="9.70" height="12.05" fill="#5f94c8"/>
<rect x="126.27" y="321.00" width="9.70" height="4.25" fill="#7aafd5"/>
<rect x="126.27" y="324.90" width="9.70" height="4.25" fill="#dceef5"/>
<rect x="126.27" y="328.80" width="9.70" height="4.25" fill="#fef9b4"/>
<rect x="126.27" y="332.70" width="9.70" height="12.05" fill="#fede8c"/>
<rect x="126.27" y="344.40" width="9.70" height="4.25" fill="#fef3a6"/>
<rect x="126.27" y="348.30" width="9.70" height="4.25" fill="#fef9b4"/>
<rect x="135.62" y="262.50" width="9.70" height="8.15" fill="#fef3a6"/>
<rect x="135.62" y="270.30" width="9.70" height="12.05" fill="#fede8c"/>
<rect x="135.62" y="282.00" width="9.70" height="4.25" fill="#dceef5"/>
<rect x="135.62" y="285.90" width="9.70" height="8.15" fill="#7aafd5"/>
<rect x="135.62" y="293.70" width="9.70" height="8.15" fill="#5f94c8"/>
<rect x="135.62" y="301.50" width="9.70" height="4.25" fill="#4d7dbc"/>
<rect x="135.62" y="305.40" width="9.70" height="4.25" fill="#4168b0"/>
<rect x="135.62" y="309.30" width="9.70" height="8.15" fill="#4d7dbc"/>
<rect x="135.62" y="317.10" width="9.70" height="8.15" fill="#7aafd5"/>
<rect x="135.62" y="324.90" width="9.70" height="4.25" fill="#dceef5"/>
<rect x="135.62" y="328.80" width="9.70" height="4.25" fill="#fef9b4"/>
<rect x="135.62" y="332.70" width="9.70" height="4.25" fill="#fefefd"/>
<rect x="135.62" y="336.60" width="9.70" height="4.25" fill="#fede8c"/>
<rect x="135.62" y="340.50" width="9.70" height="4.25" fill="#f89a51"/>
<rect x="135.62" y="344.40" width="9.70" height="4.25" fill="#fede8c"/>
<rect x="135.62" y="348.30" width="9.70" height="4.25" fill="#fef9b4"/>
<rect x="144.97" y="262.50" width="9.70" height="4.25" fill="#fefefd"/>
<rect x="144.97" y="266.40" width="9.70" height="12.05" fill="#fef3a6"/>
<rect x="144.97" y="278.10" width="9.70" height="4.25" fill="#fbb469"/>
<rect x="144.97" y="282.00" width="9.70" height="4.25" fill="#fef9b4"/>
<rect x="144.97" y="285.90" width="9.70" height="4.25" fill="#a0cce3"/>
<rect x="144.97" y="289.80" width="9.70" height="27.65" fill="#7aafd5"/>
<rect x="144.97" y="317.10" width="9.70" height="4.25" fill="#4d7dbc"/>
<rect x="144.97" y="321.00" width="9.70" height="4.25" fill="#5f94c8"/>
<rect x="144.97" y="324.90" width="9.70" height="4.25" fill="#dceef5"/>
<rect x="144.97" y="328.80" width="9.70" height="4.25" fill="#fefefd"/>
<rect x="144.97" y="332.70" width="9.70" height="12.05" fill="#fef3a6"/>
<rect x="144.97" y="344.40" width="9.70" height="8.15" fill="#fef9b4"/>
<rect x="154.31" y="262.50" width="9.70" height="12.05" fill="#fef3a6"/>
<rect x="154.31" y="274.20" width="9.70" height="4.25" fill="#fefefd"/>
<rect x="154.31" y="278.10" width="9.70" height="8.15" fill="#fede8c"/>
<rect x="154.31" y="285.90" width="9.70" height="4.25" fill="#c7e3ef"/>
<rect x="154.31" y="289.80" width="9.70" height="19.85" fill="#7aafd5"/>
<rect x="154.31" y="309.30" width="9.70" height="12.05" fill="#5f94c8"/>
<rect x="154.31" y="321.00" width="9.70" height="4.25" fill="#7aafd5"/>
<rect x="154.31" y="324.90" width="9.70" height="4.25" fill="#dceef5"/>
<rect x="154.31" y="328.80" width="9.70" height="4.25" fill="#fefefd"/>
<rect x="154.31" y="332.70" width="9.70" height="4.25" fill="#fef9b4"/>
<rect x="154.31" y="336.60" width="9.70" height="8.15" fill="#fef3a6"/>
<rect x="154.31" y="344.40" width="9.70" height="4.25" fill="#fef9b4"/>
<rect x="154.31" y="348.30" width="9.70" height="4.25" fill="#fefefd"/>
<rect x="163.66" y="262.50" width="9.70" height="12.05" fill="#fef3a6"/>
<rect x="163.66" y="274.20" width="9.70" height="8.15" fill="#fefefd"/>
<rect x="163.66" y="282.00" width="9.70" height="4.25" fill="#dceef5"/>
<rect x="163.66" y="285.90" width="9.70" height="4.25" fill="#a0cce3"/>
<rect x="163.66" y="289.80" width="9.70" height="31.55" fill="#5f94c8"/>
<rect x="163.66" y="321.00" width="9.70" height="4.25" fill="#4d7dbc"/>
<rect x="163.66" y="324.90" width="9.70" height="4.25" fill="#dceef5"/>
<rect x="163.66" y="328.80" width="9.70" height="8.15" fill="#fef9b4"/>
<rect x="163.66" y="336.60" width="9.70" height="8.15" fill="#fef3a6"/>
<rect x="163.66" y="344.40" width="9.70" height="8.15" fill="#fef9b4"/>
<rect x="173.01" y="262.50" width="9.70" height="12.05" fill="#fef3a6"/>
<rect x="173.01" y="274.20" width="9.70" height="8.15" fill="#fef9b4"/>
<rect x="173.01" y="282.00" width="9.70" height="4.25" fill="#dceef5"/>
<rect x="173.01" y="285.90" width="9.70" height="4.25" fill="#a0cce3"/>
<rect x="173.01" y="289.80" width="9.70" height="12.05" fill="#5f94c8"/>
<rect x="173.01" y="301.50" width="9.70" height="8.15" fill="#7aafd5"/>
<rect x="173.01" y="309.30" width="9.70" height="15.95" fill="#5f94c8"/>
<rect x="173.01" y="324.90" width="9.70" height="4.25" fill="#dceef5"/>
<rect x="173.01" y="328.80" width="9.70" height="4.25" fill="#fefefd"/>
<rect x="173.01" y="332.70" width="9.70" height="15.95" fill="#fef9b4"/>
<rect x="173.01" y="348.30" width="9.70" height="4.25" fill="#fefefd"/>
<rect x="182.36" y="262.50" width="9.70" height="12.05" fill="#fef3a6"/>
<rect x="182.36" y="274.20" width="9.70" height="8.15" fill="#fefefd"/>
<rect x="182.36" y="282.00" width="9.70" height="4.25" fill="#dceef5"/>
<rect x="182.36" y="285.90" width="9.70" height="4.25" fill="#c7e3ef"/>
<rect x="182.36" y="289.80" width="9.70" height="19.85" fill="#a0cce3"/>
<rect x="182.36" y="309.30" width="9.70" height="15.95" fill="#7aafd5"/>
<rect x="182.36" y="324.90" width="9.70" height="4.25" fill="#dceef5"/>
<rect x="182.36" y="328.80" width="9.70" height="4.25" fill="#fefefd"/>
<rect x="182.36" y="332.70" width="9.70" height="15.95" fill="#fef9b4"/>
<rect x="182.36" y="348.30" width="9.70" height="4.25" fill="#fefefd"/>
<rect x="191.70" y="262.50" width="9.70" height="8.15" fill="#fefefd"/>
<rect x="191.70" y="270.30" width="9.70" height="4.25" fill="#fef3a6"/>
<rect x="191.70" y="274.20" width="9.70" height="4.25" fill="#fef9b4"/>
<rect x="191.70" y="278.10" width="9.70" height="4.25" fill="#fef3a6"/>
<rect x="191.70" y="282.00" width="9.70" height="4.25" fill="#fef9b4"/>
<rect x="191.70" y="285.90" width="9.70" height="4.25" fill="#a0cce3"/>
<rect x="191.70" y="289.80" width="9.70" height="8.15" fill="#7aafd5"/>
<rect x="191.70" y="297.60" width="9.70" height="4.25" fill="#a0cce3"/>
<rect x="191.70" y="301.50" width="9.70" height="4.25" fill="#c7e3ef"/>
<rect x="191.70" y="305.40" width="9.70" height="8.15" fill="#7aafd5"/>
<rect x="191.70" y="313.20" width="9.70" height="8.15" fill="#dceef5"/>
<rect x="191.70" y="321.00" width="9.70" height="4.25" fill="#a0cce3"/>
<rect x="191.70" y="324.90" width="9.70" height="4.25" fill="#dceef5"/>
<rect x="191.70" y="328.80" width="9.70" height="4.25" fill="#fefefd"/>
<rect x="191.70" y="332.70" width="9.70" height="19.85" fill="#fef9b4"/>
<rect x="201.05" y="262.50" width="9.70" height="19.85" fill="#fef3a6"/>
<rect x="201.05" y="282.00" width="9.70" height="4.25" fill="#dceef5"/>
<rect x="201.05" y="285.90" width="9.70" height="12.05" fill="#a0cce3"/>
<rect x="201.05" y="297.60" width="9.70" height="19.85" fill="#7aafd5"/>
<rect x="201.05" y="317.10" width="9.70" height="4.25" fill="#5f94c8"/>
<rect x="201.05" y="321.00" width="9.70" height="4.25" fill="#7aafd5"/>
<rect x="201.05" y="324.90" width="9.70" height="4.25" fill="#dceef5"/>
<rect x="201.05" y="328.80" width="9.70" height="4.25" fill="#fefefd"/>
<rect x="201.05" y="332.70" width="9.70" height="12.05" fill="#fef9b4"/>
<rect x="201.05" y="344.40" width="9.70" height="4.25" fill="#fefefd"/>
<rect x="201.05" y="348.30" width="9.70" height="4.25" fill="#fef9b4"/>
<rect x="210.40" y="262.50" width="9.70" height="19.85" fill="#fef3a6"/>
<rect x="210.40" y="282.00" width="9.70" height="4.25" fill="#dceef5"/>
<rect x="210.40" y="285.90" width="9.70" height="4.25" fill="#7aafd5"/>
<rect x="210.40" y="289.80" width="9.70" height="15.95" fill="#5f94c8"/>
<rect x="210.40" y="305.40" width="9.70" height="19.85" fill="#7aafd5"/>
<rect x="210.40" y="324.90" width="9.70" height="4.25" fill="#dceef5"/>
<rect x="210.40" y="328.80" width="9.70" height="23.75" fill="#fef9b4"/>
<rect x="219.74" y="262.50" width="9.70" height="15.95" fill="#fef3a6"/>
<rect x="219.74" y="278.10" width="9.70" height="8.15" fill="#fefefd"/>
<rect x="219.74" y="285.90" width="9.70" height="8.15" fill="#7aafd5"/>
<rect x="219.74" y="293.70" width="9.70" height="4.25" fill="#5f94c8"/>
<rect x="219.74" y="297.60" width="9.70" height="15.95" fill="#7aafd5"/>
<rect x="219.74" y="313.20" width="9.70" height="8.15" fill="#5f94c8"/>
<rect x="219.74" y="321.00" width="9.70" height="4.25" fill="#a0cce3"/>
<rect x="219.74" y="324.90" width="9.70" height="4.25" fill="#dceef5"/>
<rect x="219.74" y="328.80" width="9.70" height="23.75" fill="#fef9b4"/>
<rect x="229.09" y="262.50" width="9.70" height="15.95" fill="#fef3a6"/>
<rect x="229.09" y="278.10" width="9.70" height="4.25" fill="#fefefd"/>
<rect x="229.09" y="282.00" width="9.70" height="4.25" fill="#dceef5"/>
<rect x="229.09" y="285.90" width="9.70" height="4.25" fill="#7aafd5"/>
<rect x="229.09" y="289.80" width="9.70" height="8.15" fill="#5f94c8"/>
<rect x="229.09" y="297.60" width="9.70" height="8.15" fill="#4d7dbc"/>
<rect x="229.09" y="305.40" width="9.70" height="4.25" fill="#5f94c8"/>
<rect x="229.09" y="309.30" width="9.70" height="4.25" fill="#4d7dbc"/>
<rect x="229.09" y="313.20" width="9.70" height="8.15" fill="#5f94c8"/>
<rect x="229.09" y="321.00" width="9.70" height="4.25" fill="#4d7dbc"/>
<rect x="229.09" y="324.90" width="9.70" height="4.25" fill="#c7e3ef"/>
<rect x="229.09" y="328.80" width="9.70" height="12.05" fill="#fef9b4"/>
<rect x="229.09" y="340.50" width="9.70" height="4.25" fill="#fef3a6"/>
<rect x="229.09" y="344.40" width="9.70" height="4.25" fill="#fef9b4"/>
<rect x="229.09" y="348.30" width="9.70" height="4.25" fill="#fef3a6"/>
<rect x="238.44" y="262.50" width="9.70" height="19.85" fill="#fef3a6"/>
<rect x="238.44" y="282.00" width="9.70" height="4.25" fill="#fefefd"/>
<rect x="238.44" y="285.90" width="9.70" height="8.15" fill="#c7e3ef"/>
<rect x="238.44" y="293.70" width="9.70" height="15.95" fill="#a0cce3"/>
<rect x="238.44" y="309.30" width="9.70" height="15.95" fill="#7aafd5"/>
<rect x="238.44" y="324.90" width="9.70" height="4.25" fill="#a0cce3"/>
<rect x="238.44" y="328.80" width="9.70" height="4.25" fill="#fefefd"/>
<rect x="238.44" y="332.70" width="9.70" height="19.85" fill="#fef9b4"/>
<rect x="247.79" y="262.50" width="9.70" height="4.25" fill="#fefefd"/>
<rect x="247.79" y="266.40" width="9.70" height="15.95" fill="#fef3a6"/>
<rect x="247.79" y="282.00" width="9.70" height="4.25" fill="#dceef5"/>
<rect x="247.79" y="285.90" width="9.70" height="8.15" fill="#a0cce3"/>
<rect x="247.79" y="293.70" width="9.70" height="4.25" fill="#dceef5"/>
<rect x="247.79" y="297.60" width="9.70" height="8.15" fill="#c7e3ef"/>
<rect x="247.79" y="305.40" width="9.70" height="4.25" fill="#dceef5"/>
<rect x="247.79" y="309.30" width="9.70" height="12.05" fill="#c7e3ef"/>
<rect x="247.79" y="321.00" width="9.70" height="8.15" fill="#a0cce3"/>
<rect x="247.79" y="328.80" width="9.70" height="23.75" fill="#fef9b4"/>
<rect x="257.13" y="262.50" width="9.70" height="4.25" fill="#fef3a6"/>
<rect x="257.13" y="266.40" width="9.70" height="4.25" fill="#fede8c"/>
<rect x="257.13" y="270.30" width="9.70" height="12.05" fill="#fef3a6"/>
<rect x="257.13" y="282.00" width="9.70" height="4.25" fill="#fefefd"/>
<rect x="257.13" y="285.90" width="9.70" height="8.15" fill="#c7e3ef"/>
<rect x="257.13" y="293.70" width="9.70" height="4.25" fill="#dceef5"/>
<rect x="257.13" y="297.60" width="9.70" height="4.25" fill="#c7e3ef"/>
<rect x="257.13" y="301.50" width="9.70" height="4.25" fill="#dceef5"/>
<rect x="257.13" y="305.40" width="9.70" height="4.25" fill="#c7e3ef"/>
<rect x="257.13" y="309.30" width="9.70" height="4.25" fill="#dceef5"/>
<rect x="257.13" y="313.20" width="9.70" height="4.25" fill="#c7e3ef"/>
<rect x="257.13" y="317.10" width="9.70" height="8.15" fill="#7aafd5"/>
<rect x="257.13" y="324.90" width="9.70" height="4.25" fill="#c7e3ef"/>
<rect x="257.13" y="328.80" width="9.70" height="4.25" fill="#fefefd"/>
<rect x="257.13" y="332.70" width="9.70" height="19.85" fill="#fef9b4"/>
<rect x="266.48" y="262.50" width="9.70" height="19.85" fill="#fef3a6"/>
<rect x="266.48" y="282.00" width="9.70" height="4.25" fill="#dceef5"/>
<rect x="266.48" y="285.90" width="9.70" height="4.25" fill="#7aafd5"/>
<rect x="266.48" y="289.80" width="9.70" height="35.45" fill="#5f94c8"/>
<rect x="266.48" y="324.90" width="9.70" height="4.25" fill="#c7e3ef"/>
<rect x="266.48" y="328.80" width="9.70" height="23.75" fill="#fef9b4"/>
<rect x="275.83" y="262.50" width="9.70" height="19.85" fill="#fef3a6"/>
<rect x="275.83" y="282.00" width="9.70" height="4.25" fill="#dceef5"/>
<rect x="275.83" y="285.90" width="9.70" height="4.25" fill="#a0cce3"/>
<rect x="275.83" y="289.80" width="9.70" height="8.15" fill="#7aafd5"/>
<rect x="275.83" y="297.60" width="9.70" height="12.05" fill="#a0cce3"/>
<rect x="275.83" y="309.30" width="9.70" height="15.95" fill="#7aafd5"/>
<rect x="275.83" y="324.90" width="9.70" height="4.25" fill="#c7e3ef"/>
<rect x="275.83" y="328.80" width="9.70" height="4.25" fill="#fefefd"/>
<rect x="275.83" y="332.70" width="9.70" height="19.85" fill="#fef9b4"/>
<rect x="285.18" y="262.50" width="9.70" height="19.85" fill="#fef3a6"/>
<rect x="285.18" y="282.00" width="9.70" height="4.25" fill="#fefefd"/>
<rect x="285.18" y="285.90" width="9.70" height="8.15" fill="#7aafd5"/>
<rect x="285.18" y="293.70" width="9.70" height="31.55" fill="#5f94c8"/>
<rect x="285.18" y="324.90" width="9.70" height="4.25" fill="#c7e3ef"/>
<rect x="285.18" y="328.80" width="9.70" height="4.25" fill="#fefefd"/>
<rect x="285.18" y="332.70" width="9.70" height="4.25" fill="#fef9b4"/>
<rect x="285.18" y="336.60" width="9.70" height="8.15" fill="#fefefd"/>
<rect x="285.18" y="344.40" width="9.70" height="8.15" fill="#fef9b4"/>
<rect x="294.52" y="262.50" width="9.70" height="19.85" fill="#fef3a6"/>
<rect x="294.52" y="282.00" width="9.70" height="4.25" fill="#fefefd"/>
<rect x="294.52" y="285.90" width="9.70" height="8.15" fill="#a0cce3"/>
<rect x="294.52" y="293.70" width="9.70" height="4.25" fill="#c7e3ef"/>
<rect x="294.52" y="297.60" width="9.70" height="4.25" fill="#a0cce3"/>
<rect x="294.52" y="301.50" width="9.70" height="15.95" fill="#7aafd5"/>
<rect x="294.52" y="317.10" width="9.70" height="4.25" fill="#a0cce3"/>
<rect x="294.52" y="321.00" width="9.70" height="8.15" fill="#dceef5"/>
<rect x="294.52" y="328.80" width="9.70" height="4.25" fill="#fefefd"/>
<rect x="294.52" y="332.70" width="9.70" height="4.25" fill="#fef9b4"/>
<rect x="294.52" y="336.60" width="9.70" height="8.15" fill="#fefefd"/>
<rect x="294.52" y="344.40" width="9.70" height="8.15" fill="#fef9b4"/>
<rect x="303.87" y="262.50" width="9.70" height="15.95" fill="#fef3a6"/>
<rect x="303.87" y="278.10" width="9.70" height="4.25" fill="#fede8c"/>
<rect x="303.87" y="282.00" width="9.70" height="4.25" fill="#fefefd"/>
<rect x="303.87" y="285.90" width="9.70" height="8.15" fill="#c7e3ef"/>
<rect x="303.87" y="293.70" width="9.70" height="4.25" fill="#fefefd"/>
<rect x="303.87" y="297.60" width="9.70" height="12.05" fill="#dceef5"/>
<rect x="303.87" y="309.30" width="9.70" height="4.25" fill="#c7e3ef"/>
<rect x="303.87" y="313.20" width="9.70" height="4.25" fill="#a0cce3"/>
<rect x="303.87" y="317.10" width="9.70" height="4.25" fill="#7aafd5"/>
<rect x="303.87" y="321.00" width="9.70" height="4.25" fill="#a0cce3"/>
<rect x="303.87" y="324.90" width="9.70" height="4.25" fill="#c7e3ef"/>
<rect x="303.87" y="328.80" width="9.70" height="23.75" fill="#fef9b4"/>
<rect x="313.22" y="262.50" width="9.70" height="19.85" fill="#fef3a6"/>
<rect x="313.22" y="282.00" width="9.70" height="12.05" fill="#fefefd"/>
<rect x="313.22" y="293.70" width="9.70" height="12.05" fill="#dceef5"/>
<rect x="313.22" y="305.40" width="9.70" height="8.15" fill="#c7e3ef"/>
<rect x="313.22" y="313.20" width="9.70" height="4.25" fill="#a0cce3"/>
<rect x="313.22" y="317.10" width="9.70" height="8.15" fill="#7aafd5"/>
<rect x="313.22" y="324.90" width="9.70" height="4.25" fill="#c7e3ef"/>
<rect x="313.22" y="328.80" width="9.70" height="23.75" fill="#fef9b4"/>
<rect x="322.56" y="262.50" width="9.70" height="4.25" fill="#fef3a6"/>
<rect x="322.56" y="266.40" width="9.70" height="15.95" fill="#fede8c"/>
<rect x="322.56" y="282.00" width="9.70" height="4.25" fill="#fefefd"/>
<rect x="322.56" y="285.90" width="9.70" height="4.25" fill="#c7e3ef"/>
<rect x="322.56" y="289.80" width="9.70" height="4.25" fill="#fef3a6"/>
<rect x="322.56" y="293.70" width="9.70" height="15.95" fill="#c7e3ef"/>
<rect x="322.56" y="309.30" width="9.70" height="12.05" fill="#7aafd5"/>
<rect x="322.56" y="321.00" width="9.70" height="4.25" fill="#a0cce3"/>
<rect x="322.56" y="324.90" width="9.70" height="4.25" fill="#c7e3ef"/>
<rect x="322.56" y="328.80" width="9.70" height="4.25" fill="#fef9b4"/>
<rect x="322.56" y="332.70" width="9.70" height="4.25" fill="#fefefd"/>
<rect x="322.56" y="336.60" width="9.70" height="15.95" fill="#fef9b4"/>
<rect x="331.91" y="262.50" width="9.70" height="8.15" fill="#fef3a6"/>
<rect x="331.91" y="270.30" width="9.70" height="8.15" fill="#fede8c"/>
<rect x="331.91" y="278.10" width="9.70" height="4.25" fill="#fef3a6"/>
<rect x="331.91" y="282.00" width="9.70" height="4.25" fill="#dceef5"/>
<rect x="331.91" y="285.90" width="9.70" height="19.85" fill="#7aafd5"/>
<rect x="331.91" y="305.40" width="9.70" height="15.95" fill="#5f94c8"/>
<rect x="331.91" y="321.00" width="9.70" height="4.25" fill="#7aafd5"/>
<rect x="331.91" y="324.90" width="9.70" height="4.25" fill="#c7e3ef"/>
<rect x="331.91" y="328.80" width="9.70" height="15.95" fill="#fef9b4"/>
<rect x="331.91" y="344.40" width="9.70" height="8.15" fill="#fef3a6"/>
<rect x="341.26" y="262.50" width="9.70" height="19.85" fill="#fef3a6"/>
<rect x="341.26" y="282.00" width="9.70" height="4.25" fill="#dceef5"/>
<rect x="341.26" y="285.90" width="9.70" height="4.25" fill="#a0cce3"/>
<rect x="341.26" y="289.80" width="9.70" height="23.75" fill="#7aafd5"/>
<rect x="341.26" y="313.20" width="9.70" height="8.15" fill="#5f94c8"/>
<rect x="341.26" y="321.00" width="9.70" height="4.25" fill="#7aafd5"/>
<rect x="341.26" y="324.90" width="9.70" height="4.25" fill="#c7e3ef"/>
<rect x="341.26" y="328.80" width="9.70" height="4.25" fill="#fefefd"/>
<rect x="341.26" y="332.70" width="9.70" height="19.85" fill="#fef9b4"/>
<rect x="350.61" y="262.50" width="9.70" height="15.95" fill="#fef3a6"/>
<rect x="350.61" y="278.10" width="9.70" height="4.25" fill="#fefefd"/>
<rect x="350.61" y="282.00" width="9.70" height="4.25" fill="#dceef5"/>
<rect x="350.61" y="285.90" width="9.70" height="8.15" fill="#7aafd5"/>
<rect x="350.61" y="293.70" width="9.70" height="4.25" fill="#5f94c8"/>
<rect x="350.61" y="297.60" width="9.70" height="23.75" fill="#7aafd5"/>
<rect x="350.61" y="321.00" width="9.70" height="4.25" fill="#a0cce3"/>
<rect x="350.61" y="324.90" width="9.70" height="4.25" fill="#dceef5"/>
<rect x="350.61" y="328.80" width="9.70" height="4.25" fill="#fefefd"/>
<rect x="350.61" y="332.70" width="9.70" height="19.85" fill="#fef9b4"/>
<rect x="359.95" y="262.50" width="9.70" height="19.85" fill="#fef3a6"/>
<rect x="359.95" y="282.00" width="9.70" height="4.25" fill="#dceef5"/>
<rect x="359.95" y="285.90" width="9.70" height="8.15" fill="#c7e3ef"/>
<rect x="359.95" y="293.70" width="9.70" height="8.15" fill="#a0cce3"/>
<rect x="359.95" y="301.50" width="9.70" height="12.05" fill="#c7e3ef"/>
<rect x="359.95" y="313.20" width="9.70" height="4.25" fill="#a0cce3"/>
<rect x="359.95" y="317.10" width="9.70" height="8.15" fill="#7aafd5"/>
<rect x="359.95" y="324.90" width="9.70" height="4.25" fill="#c7e3ef"/>
<rect x="359.95" y="328.80" width="9.70" height="4.25" fill="#fefefd"/>
<rect x="359.95" y="332.70" width="9.70" height="19.85" fill="#fef9b4"/>
<rect x="369.30" y="262.50" width="9.70" height="15.95" fill="#fef3a6"/>
<rect x="369.30" y="278.10" width="9.70" height="4.25" fill="#fefefd"/>
<rect x="369.30" y="282.00" width="9.70" height="4.25" fill="#dceef5"/>
<rect x="369.30" y="285.90" width="9.70" height="27.65" fill="#c7e3ef"/>
<rect x="369.30" y="313.20" width="9.70" height="12.05" fill="#7aafd5"/>
<rect x="369.30" y="324.90" width="9.70" height="4.25" fill="#dceef5"/>
<rect x="369.30" y="328.80" width="9.70" height="4.25" fill="#fefefd"/>
<rect x="369.30" y="332.70" width="9.70" height="19.85" fill="#fef9b4"/>
<rect x="378.65" y="262.50" width="9.70" height="15.95" fill="#fef3a6"/>
<rect x="378.65" y="278.10" width="9.70" height="4.25" fill="#fefefd"/>
<rect x="378.65" y="282.00" width="9.70" height="15.95" fill="#dceef5"/>
<rect x="378.65" y="297.60" width="9.70" height="15.95" fill="#c7e3ef"/>
<rect x="378.65" y="313.20" width="9.70" height="8.15" fill="#7aafd5"/>
<rect x="378.65" y="321.00" width="9.70" height="4.25" fill="#a0cce3"/>
<rect x="378.65" y="324.90" width="9.70" height="8.15" fill="#dceef5"/>
<rect x="378.65" y="332.70" width="9.70" height="19.85" fill="#fef9b4"/>
<rect x="387.99" y="262.50" width="9.70" height="4.25" fill="#fefefd"/>
<rect x="387.99" y="266.40" width="9.70" height="4.25" fill="#fef3a6"/>
<rect x="387.99" y="270.30" width="9.70" height="8.15" fill="#fede8c"/>
<rect x="387.99" y="278.10" width="9.70" height="4.25" fill="#fef9b4"/>
<rect x="387.99" y="282.00" width="9.70" height="4.25" fill="#fefefd"/>
<rect x="387.99" y="285.90" width="9.70" height="4.25" fill="#dceef5"/>
<rect x="387.99" y="289.80" width="9.70" height="15.95" fill="#fefefd"/>
<rect x="387.99" y="305.40" width="9.70" height="4.25" fill="#dceef5"/>
<rect x="387.99" y="309.30" width="9.70" height="4.25" fill="#fefefd"/>
<rect x="387.99" y="313.20" width="9.70" height="4.25" fill="#7aafd5"/>
<rect x="387.99" y="317.10" width="9.70" height="4.25" fill="#a0cce3"/>
<rect x="387.99" y="321.00" width="9.70" height="8.15" fill="#7aafd5"/>
<rect x="387.99" y="328.80" width="9.70" height="12.05" fill="#fefefd"/>
<rect x="387.99" y="340.50" width="9.70" height="12.05" fill="#fef9b4"/>
<rect x="397.34" y="262.50" width="9.70" height="12.05" fill="#fef3a6"/>
<rect x="397.34" y="274.20" width="9.70" height="4.25" fill="#fede8c"/>
<rect x="397.34" y="278.10" width="9.70" height="8.15" fill="#fef3a6"/>
<rect x="397.34" y="285.90" width="9.70" height="27.65" fill="#fefefd"/>
<rect x="397.34" y="313.20" width="9.70" height="8.15" fill="#dceef5"/>
<rect x="397.34" y="321.00" width="9.70" height="4.25" fill="#c7e3ef"/>
<rect x="397.34" y="324.90" width="9.70" height="4.25" fill="#dceef5"/>
<rect x="397.34" y="328.80" width="9.70" height="12.05" fill="#fefefd"/>
<rect x="397.34" y="340.50" width="9.70" height="12.05" fill="#fef9b4"/>
<rect x="406.69" y="262.50" width="9.70" height="23.75" fill="#fef3a6"/>
<rect x="406.69" y="285.90" width="9.70" height="8.15" fill="#fefefd"/>
<rect x="406.69" y="293.70" width="9.70" height="4.25" fill="#fef3a6"/>
<rect x="406.69" y="297.60" width="9.70" height="4.25" fill="#fede8c"/>
<rect x="406.69" y="301.50" width="9.70" height="4.25" fill="#fef3a6"/>
<rect x="406.69" y="305.40" width="9.70" height="4.25" fill="#fef9b4"/>
<rect x="406.69" y="309.30" width="9.70" height="4.25" fill="#fefefd"/>
<rect x="406.69" y="313.20" width="9.70" height="8.15" fill="#dceef5"/>
<rect x="406.69" y="321.00" width="9.70" height="4.25" fill="#c7e3ef"/>
<rect x="406.69" y="324.90" width="9.70" height="4.25" fill="#dceef5"/>
<rect x="406.69" y="328.80" width="9.70" height="4.25" fill="#fefefd"/>
<rect x="406.69" y="332.70" width="9.70" height="19.85" fill="#fef9b4"/>
<rect x="416.04" y="262.50" width="9.70" height="4.25" fill="#fef3a6"/>
<rect x="416.04" y="266.40" width="9.70" height="4.25" fill="#fefefd"/>
<rect x="416.04" y="270.30" width="9.70" height="12.05" fill="#fef3a6"/>
<rect x="416.04" y="282.00" width="9.70" height="4.25" fill="#dceef5"/>
<rect x="416.04" y="285.90" width="9.70" height="4.25" fill="#7aafd5"/>
<rect x="416.04" y="289.80" width="9.70" height="19.85" fill="#5f94c8"/>
<rect x="416.04" y="309.30" width="9.70" height="4.25" fill="#4d7dbc"/>
<rect x="416.04" y="313.20" width="9.70" height="4.25" fill="#5f94c8"/>
<rect x="416.04" y="317.10" width="9.70" height="4.25" fill="#a0cce3"/>
<rect x="416.04" y="321.00" width="9.70" height="4.25" fill="#c7e3ef"/>
<rect x="416.04" y="324.90" width="9.70" height="4.25" fill="#fefefd"/>
<rect x="416.04" y="328.80" width="9.70" height="12.05" fill="#fef9b4"/>
<rect x="416.04" y="340.50" width="9.70" height="4.25" fill="#fef3a6"/>
<rect x="416.04" y="344.40" width="9.70" height="4.25" fill="#fef9b4"/>
<rect x="416.04" y="348.30" width="9.70" height="4.25" fill="#fef3a6"/>
<rect x="425.38" y="262.50" width="9.70" height="12.05" fill="#fefefd"/>
<rect x="425.38" y="274.20" width="9.70" height="8.15" fill="#fef3a6"/>
<rect x="425.38" y="282.00" width="9.70" height="4.25" fill="#dceef5"/>
<rect x="425.38" y="285.90" width="9.70" height="23.75" fill="#7aafd5"/>
<rect x="425.38" y="309.30" width="9.70" height="8.15" fill="#5f94c8"/>
<rect x="425.38" y="317.10" width="9.70" height="4.25" fill="#7aafd5"/>
<rect x="425.38" y="321.00" width="9.70" height="4.25" fill="#a0cce3"/>
<rect x="425.38" y="324.90" width="9.70" height="4.25" fill="#dceef5"/>
<rect x="425.38" y="328.80" width="9.70" height="12.05" fill="#fefefd"/>
<rect x="425.38" y="340.50" width="9.70" height="12.05" fill="#fef9b4"/>
<rect x="434.73" y="262.50" width="9.70" height="23.75" fill="#fef3a6"/>
<rect x="434.73" y="285.90" width="9.70" height="4.25" fill="#5f94c8"/>
<rect x="434.73" y="289.80" width="9.70" height="8.15" fill="#c7e3ef"/>
<rect x="434.73" y="297.60" width="9.70" height="4.25" fill="#dceef5"/>
<rect x="434.73" y="301.50" width="9.70" height="8.15" fill="#fefefd"/>
<rect x="434.73" y="309.30" width="9.70" height="4.25" fill="#c7e3ef"/>
<rect x="434.73" y="313.20" width="9.70" height="8.15" fill="#a0cce3"/>
<rect x="434.73" y="321.00" width="9.70" height="4.25" fill="#c7e3ef"/>
<rect x="434.73" y="324.90" width="9.70" height="4.25" fill="#dceef5"/>
<rect x="434.73" y="328.80" width="9.70" height="4.25" fill="#fefefd"/>
<rect x="434.73" y="332.70" width="9.70" height="19.85" fill="#fef9b4"/>
<rect x="444.08" y="262.50" width="9.70" height="19.85" fill="#fef3a6"/>
<rect x="444.08" y="282.00" width="9.70" height="4.25" fill="#fefefd"/>
<rect x="444.08" y="285.90" width="9.70" height="4.25" fill="#fede8c"/>
<rect x="444.08" y="289.80" width="9.70" height="12.05" fill="#c7e3ef"/>
<rect x="444.08" y="301.50" width="9.70" height="12.05" fill="#dceef5"/>
<rect x="444.08" y="313.20" width="9.70" height="4.25" fill="#a0cce3"/>
<rect x="444.08" y="317.10" width="9.70" height="4.25" fill="#c7e3ef"/>
<rect x="444.08" y="321.00" width="9.70" height="4.25" fill="#dceef5"/>
<rect x="444.08" y="324.90" width="9.70" height="8.15" fill="#fef3a6"/>
<rect x="444.08" y="332.70" width="9.70" height="4.25" fill="#fef9b4"/>
<rect x="444.08" y="336.60" width="9.70" height="8.15" fill="#fef3a6"/>
<rect x="444.08" y="344.40" width="9.70" height="8.15" fill="#fef9b4"/>
<rect x="453.43" y="262.50" width="9.70" height="15.95" fill="#fef3a6"/>
<rect x="453.43" y="278.10" width="9.70" height="4.25" fill="#fede8c"/>
<rect x="453.43" y="282.00" width="9.70" height="4.25" fill="#fefefd"/>
<rect x="453.43" y="285.90" width="9.70" height="4.25" fill="#c7e3ef"/>
<rect x="453.43" y="289.80" width="9.70" height="8.15" fill="#a0cce3"/>
<rect x="453.43" y="297.60" width="9.70" height="4.25" fill="#c7e3ef"/>
<rect x="453.43" y="301.50" width="9.70" height="8.15" fill="#a0cce3"/>
<rect x="453.43" y="309.30" width="9.70" height="15.95" fill="#7aafd5"/>
<rect x="453.43" y="324.90" width="9.70" height="4.25" fill="#dceef5"/>
<rect x="453.43" y="328.80" width="9.70" height="8.15" fill="#fefefd"/>
<rect x="453.43" y="336.60" width="9.70" height="8.15" fill="#fede8c"/>
<rect x="453.43" y="344.40" width="9.70" height="8.15" fill="#fef3a6"/>
<rect x="462.77" y="262.50" width="9.70" height="19.85" fill="#fef3a6"/>
<rect x="462.77" y="282.00" width="9.70" height="4.25" fill="#fefefd"/>
<rect x="462.77" y="285.90" width="9.70" height="4.25" fill="#dceef5"/>
<rect x="462.77" y="289.80" width="9.70" height="8.15" fill="#fefefd"/>
<rect x="462.77" y="297.60" width="9.70" height="15.95" fill="#dceef5"/>
<rect x="462.77" y="313.20" width="9.70" height="4.25" fill="#a0cce3"/>
<rect x="462.77" y="317.10" width="9.70" height="8.15" fill="#7aafd5"/>
<rect x="462.77" y="324.90" width="9.70" height="4.25" fill="#c7e3ef"/>
<rect x="462.77" y="328.80" width="9.70" height="8.15" fill="#fefefd"/>
<rect x="462.77" y="336.60" width="9.70" height="8.15" fill="#fef3a6"/>
<rect x="462.77" y="344.40" width="9.70" height="8.15" fill="#fef9b4"/>
<rect x="472.12" y="262.50" width="9.70" height="19.85" fill="#fef3a6"/>
<rect x="472.12" y="282.00" width="9.70" height="4.25" fill="#fefefd"/>
<rect x="472.12" y="285.90" width="9.70" height="4.25" fill="#fef3a6"/>
<rect x="472.12" y="289.80" width="9.70" height="8.15" fill="#fefefd"/>
<rect x="472.12" y="297.60" width="9.70" height="4.25" fill="#fef9b4"/>
<rect x="472.12" y="301.50" width="9.70" height="4.25" fill="#fef3a6"/>
<rect x="472.12" y="305.40" width="9.70" height="4.25" fill="#fef9b4"/>
<rect x="472.12" y="309.30" width="9.70" height="15.95" fill="#c7e3ef"/>
<rect x="472.12" y="324.90" width="9.70" height="4.25" fill="#dceef5"/>
<rect x="472.12" y="328.80" width="9.70" height="8.15" fill="#fefefd"/>
<rect x="472.12" y="336.60" width="9.70" height="15.95" fill="#fef9b4"/>
<rect x="481.47" y="262.50" width="9.70" height="12.05" fill="#fef3a6"/>
<rect x="481.47" y="274.20" width="9.70" height="4.25" fill="#fede8c"/>
<rect x="481.47" y="278.10" width="9.70" height="4.25" fill="#fef3a6"/>
<rect x="481.47" y="282.00" width="9.70" height="27.65" fill="#fefefd"/>
<rect x="481.47" y="309.30" width="9.70" height="8.15" fill="#c7e3ef"/>
<rect x="481.47" y="317.10" width="9.70" height="8.15" fill="#a0cce3"/>
<rect x="481.47" y="324.90" width="9.70" height="4.25" fill="#dceef5"/>
<rect x="481.47" y="328.80" width="9.70" height="4.25" fill="#fefefd"/>
<rect x="481.47" y="332.70" width="9.70" height="19.85" fill="#fef9b4"/>
<rect x="490.81" y="262.50" width="9.70" height="4.25" fill="#fede8c"/>
<rect x="490.81" y="266.40" width="9.70" height="4.25" fill="#fef3a6"/>
<rect x="490.81" y="270.30" width="9.70" height="4.25" fill="#fede8c"/>
<rect x="490.81" y="274.20" width="9.70" height="4.25" fill="#fbb469"/>
<rect x="490.81" y="278.10" width="9.70" height="4.25" fill="#fef3a6"/>
<rect x="490.81" y="282.00" width="9.70" height="4.25" fill="#fefefd"/>
<rect x="490.81" y="285.90" width="9.70" height="23.75" fill="#dceef5"/>
<rect x="490.81" y="309.30" width="9.70" height="4.25" fill="#c7e3ef"/>
<rect x="490.81" y="313.20" width="9.70" height="12.05" fill="#a0cce3"/>
<rect x="490.81" y="324.90" width="9.70" height="4.25" fill="#dceef5"/>
<rect x="490.81" y="328.80" width="9.70" height="23.75" fill="#fef9b4"/>
<rect x="500.16" y="262.50" width="9.70" height="4.25" fill="#fede8c"/>
<rect x="500.16" y="266.40" width="9.70" height="12.05" fill="#fef3a6"/>
<rect x="500.16" y="278.10" width="9.70" height="4.25" fill="#fede8c"/>
<rect x="500.16" y="282.00" width="9.70" height="8.15" fill="#c7e3ef"/>
<rect x="500.16" y="289.80" width="9.70" height="8.15" fill="#fefefd"/>
<rect x="500.16" y="297.60" width="9.70" height="8.15" fill="#c7e3ef"/>
<rect x="500.16" y="305.40" width="9.70" height="12.05" fill="#dceef5"/>
<rect x="500.16" y="317.10" width="9.70" height="4.25" fill="#fefefd"/>
<rect x="500.16" y="321.00" width="9.70" height="4.25" fill="#c7e3ef"/>
<rect x="500.16" y="324.90" width="9.70" height="4.25" fill="#dceef5"/>
<rect x="500.16" y="328.80" width="9.70" height="15.95" fill="#fef9b4"/>
<rect x="500.16" y="344.40" width="9.70" height="4.25" fill="#fef3a6"/>
<rect x="500.16" y="348.30" width="9.70" height="4.25" fill="#fef9b4"/>
<rect x="509.51" y="262.50" width="9.70" height="8.15" fill="#fef3a6"/>
<rect x="509.51" y="270.30" width="9.70" height="8.15" fill="#fefefd"/>
<rect x="509.51" y="278.10" width="9.70" height="4.25" fill="#fef3a6"/>
<rect x="509.51" y="282.00" width="9.70" height="19.85" fill="#c7e3ef"/>
<rect x="509.51" y="301.50" width="9.70" height="8.15" fill="#dceef5"/>
<rect x="509.51" y="309.30" width="9.70" height="4.25" fill="#a0cce3"/>
<rect x="509.51" y="313.20" width="9.70" height="12.05" fill="#7aafd5"/>
<rect x="509.51" y="324.90" width="9.70" height="4.25" fill="#dceef5"/>
<rect x="509.51" y="328.80" width="9.70" height="4.25" fill="#fefefd"/>
<rect x="509.51" y="332.70" width="9.70" height="19.85" fill="#fef9b4"/>
<rect x="518.86" y="262.50" width="9.70" height="4.25" fill="#fefefd"/>
<rect x="518.86" y="266.40" width="9.70" height="12.05" fill="#fef3a6"/>
<rect x="518.86" y="278.10" width="9.70" height="4.25" fill="#fefefd"/>
<rect x="518.86" y="282.00" width="9.70" height="4.25" fill="#dceef5"/>
<rect x="518.86" y="285.90" width="9.70" height="15.95" fill="#c7e3ef"/>
<rect x="518.86" y="301.50" width="9.70" height="8.15" fill="#dceef5"/>
<rect x="518.86" y="309.30" width="9.70" height="4.25" fill="#c7e3ef"/>
<rect x="518.86" y="313.20" width="9.70" height="8.15" fill="#7aafd5"/>
<rect x="518.86" y="321.00" width="9.70" height="4.25" fill="#a0cce3"/>
<rect x="518.86" y="324.90" width="9.70" height="4.25" fill="#dceef5"/>
<rect x="518.86" y="328.80" width="9.70" height="8.15" fill="#fefefd"/>
<rect x="518.86" y="336.60" width="9.70" height="15.95" fill="#fef9b4"/>
<rect x="528.20" y="262.50" width="9.70" height="19.85" fill="#fef3a6"/>
<rect x="528.20" y="282.00" width="9.70" height="4.25" fill="#fefefd"/>
<rect x="528.20" y="285.90" width="9.70" height="23.75" fill="#dceef5"/>
<rect x="528.20" y="309.30" width="9.70" height="4.25" fill="#c7e3ef"/>
<rect x="528.20" y="313.20" width="9.70" height="12.05" fill="#a0cce3"/>
<rect x="528.20" y="324.90" width="9.70" height="4.25" fill="#dceef5"/>
<rect x="528.20" y="328.80" width="9.70" height="4.25" fill="#fefefd"/>
<rect x="528.20" y="332.70" width="9.70" height="19.85" fill="#fef9b4"/>
<rect x="537.55" y="262.50" width="9.70" height="19.85" fill="#fef3a6"/>
<rect x="537.55" y="282.00" width="9.70" height="4.25" fill="#fefefd"/>
<rect x="537.55" y="285.90" width="9.70" height="12.05" fill="#dceef5"/>
<rect x="537.55" y="297.60" width="9.70" height="8.15" fill="#c7e3ef"/>
<rect x="537.55" y="305.40" width="9.70" height="8.15" fill="#dceef5"/>
<rect x="537.55" y="313.20" width="9.70" height="4.25" fill="#c7e3ef"/>
<rect x="537.55" y="317.10" width="9.70" height="12.05" fill="#a0cce3"/>
<rect x="537.55" y="328.80" width="9.70" height="4.25" fill="#dceef5"/>
<rect x="537.55" y="332.70" width="9.70" height="12.05" fill="#fefefd"/>
<rect x="537.55" y="344.40" width="9.70" height="4.25" fill="#fef3a6"/>
<rect x="537.55" y="348.30" width="9.70" height="4.25" fill="#fefefd"/>
<rect x="546.90" y="262.50" width="9.70" height="4.25" fill="#fef3a6"/>
<rect x="546.90" y="266.40" width="9.70" height="4.25" fill="#fefefd"/>
<rect x="546.90" y="270.30" width="9.70" height="12.05" fill="#fef3a6"/>
<rect x="546.90" y="282.00" width="9.70" height="8.15" fill="#fefefd"/>
<rect x="546.90" y="289.80" width="9.70" height="8.15" fill="#dceef5"/>
<rect x="546.90" y="297.60" width="9.70" height="15.95" fill="#fefefd"/>
<rect x="546.90" y="313.20" width="9.70" height="4.25" fill="#dceef5"/>
<rect x="546.90" y="317.10" width="9.70" height="4.25" fill="#c7e3ef"/>
<rect x="546.90" y="321.00" width="9.70" height="4.25" fill="#7aafd5"/>
<rect x="546.90" y="324.90" width="9.70" height="4.25" fill="#a0cce3"/>
<rect x="546.90" y="328.80" width="9.70" height="4.25" fill="#dceef5"/>
<rect x="546.90" y="332.70" width="9.70" height="12.05" fill="#fefefd"/>
<rect x="546.90" y="344.40" width="9.70" height="4.25" fill="#fef3a6"/>
<rect x="546.90" y="348.30" width="9.70" height="4.25" fill="#fefefd"/>
<rect x="556.24" y="262.50" width="9.70" height="8.15" fill="#fef3a6"/>
<rect x="556.24" y="270.30" width="9.70" height="4.25" fill="#fede8c"/>
<rect x="556.24" y="274.20" width="9.70" height="4.25" fill="#fef3a6"/>
<rect x="556.24" y="278.10" width="9.70" height="4.25" fill="#fefefd"/>
<rect x="556.24" y="282.00" width="9.70" height="4.25" fill="#dceef5"/>
<rect x="556.24" y="285.90" width="9.70" height="15.95" fill="#fefefd"/>
<rect x="556.24" y="301.50" width="9.70" height="4.25" fill="#fef3a6"/>
<rect x="556.24" y="305.40" width="9.70" height="12.05" fill="#fefefd"/>
<rect x="556.24" y="317.10" width="9.70" height="12.05" fill="#c7e3ef"/>
<rect x="556.24" y="328.80" width="9.70" height="4.25" fill="#dceef5"/>
<rect x="556.24" y="332.70" width="9.70" height="19.85" fill="#fefefd"/>
<rect x="565.59" y="262.50" width="9.70" height="4.25" fill="#fef3a6"/>
<rect x="565.59" y="266.40" width="9.70" height="4.25" fill="#fefefd"/>
<rect x="565.59" y="270.30" width="9.70" height="12.05" fill="#fef3a6"/>
<rect x="565.59" y="282.00" width="9.70" height="4.25" fill="#fefefd"/>
<rect x="565.59" y="285.90" width="9.70" height="12.05" fill="#fef3a6"/>
<rect x="565.59" y="297.60" width="9.70" height="23.75" fill="#fefefd"/>
<rect x="565.59" y="321.00" width="9.70" height="8.15" fill="#dceef5"/>
<rect x="565.59" y="328.80" width="9.70" height="4.25" fill="#fefefd"/>
<rect x="565.59" y="332.70" width="9.70" height="19.85" fill="#fef3a6"/>
<rect x="574.94" y="262.50" width="9.70" height="19.85" fill="#fef3a6"/>
<rect x="574.94" y="282.00" width="9.70" height="35.45" fill="#fefefd"/>
<rect x="574.94" y="317.10" width="9.70" height="12.05" fill="#c7e3ef"/>
<rect x="574.94" y="328.80" width="9.70" height="4.25" fill="#dceef5"/>
<rect x="574.94" y="332.70" width="9.70" height="8.15" fill="#fefefd"/>
<rect x="574.94" y="340.50" width="9.70" height="4.25" fill="#fef3a6"/>
<rect x="574.94" y="344.40" width="9.70" height="8.15" fill="#fefefd"/>
<rect x="584.29" y="262.50" width="9.70" height="15.95" fill="#fefefd"/>
<rect x="584.29" y="278.10" width="9.70" height="4.25" fill="#fef3a6"/>
<rect x="584.29" y="282.00" width="9.70" height="4.25" fill="#dceef5"/>
<rect x="584.29" y="285.90" width="9.70" height="4.25" fill="#a0cce3"/>
<rect x="584.29" y="289.80" width="9.70" height="4.25" fill="#c7e3ef"/>
<rect x="584.29" y="293.70" width="9.70" height="23.75" fill="#fefefd"/>
<rect x="584.29" y="317.10" width="9.70" height="12.05" fill="#c7e3ef"/>
<rect x="584.29" y="328.80" width="9.70" height="4.25" fill="#dceef5"/>
<rect x="584.29" y="332.70" width="9.70" height="4.25" fill="#fefefd"/>
<rect x="584.29" y="336.60" width="9.70" height="8.15" fill="#fef3a6"/>
<rect x="584.29" y="344.40" width="9.70" height="8.15" fill="#fefefd"/>
<rect x="593.63" y="262.50" width="9.70" height="12.05" fill="#fefefd"/>
<rect x="593.63" y="274.20" width="9.70" height="8.15" fill="#fef3a6"/>
<rect x="593.63" y="282.00" width="9.70" height="4.25" fill="#dceef5"/>
<rect x="593.63" y="285.90" width="9.70" height="12.05" fill="#c7e3ef"/>
<rect x="593.63" y="297.60" width="9.70" height="15.95" fill="#dceef5"/>
<rect x="593.63" y="313.20" width="9.70" height="15.95" fill="#a0cce3"/>
<rect x="593.63" y="328.80" width="9.70" height="4.25" fill="#dceef5"/>
<rect x="593.63" y="332.70" width="9.70" height="19.85" fill="#fefefd"/>
<rect x="602.98" y="262.50" width="9.70" height="15.95" fill="#fef3a6"/>
<rect x="602.98" y="278.10" width="9.70" height="4.25" fill="#fefefd"/>
<rect x="602.98" y="282.00" width="9.70" height="4.25" fill="#dceef5"/>
<rect x="602.98" y="285.90" width="9.70" height="8.15" fill="#fefefd"/>
<rect x="602.98" y="293.70" width="9.70" height="19.85" fill="#fef3a6"/>
<rect x="602.98" y="313.20" width="9.70" height="4.25" fill="#fefefd"/>
<rect x="602.98" y="317.10" width="9.70" height="12.05" fill="#c7e3ef"/>
<rect x="602.98" y="328.80" width="9.70" height="4.25" fill="#dceef5"/>
<rect x="602.98" y="332.70" width="9.70" height="4.25" fill="#fefefd"/>
<rect x="602.98" y="336.60" width="9.70" height="4.25" fill="#fef3a6"/>
<rect x="602.98" y="340.50" width="9.70" height="12.05" fill="#fefefd"/>
<rect x="612.33" y="262.50" width="9.70" height="8.15" fill="#fef3a6"/>
<rect x="612.33" y="270.30" width="9.70" height="4.25" fill="#fede8c"/>
<rect x="612.33" y="274.20" width="9.70" height="8.15" fill="#fef3a6"/>
<rect x="612.33" y="282.00" width="9.70" height="4.25" fill="#fefefd"/>
<rect x="612.33" y="285.90" width="9.70" height="4.25" fill="#fef3a6"/>
<rect x="612.33" y="289.80" width="9.70" height="4.25" fill="#fefefd"/>
<rect x="612.33" y="293.70" width="9.70" height="4.25" fill="#fef9b4"/>
<rect x="612.33" y="297.60" width="9.70" height="15.95" fill="#fef3a6"/>
<rect x="612.33" y="313.20" width="9.70" height="4.25" fill="#fefefd"/>
<rect x="612.33" y="317.10" width="9.70" height="4.25" fill="#fef3a6"/>
<rect x="612.33" y="321.00" width="9.70" height="4.25" fill="#fefefd"/>
<rect x="612.33" y="324.90" width="9.70" height="4.25" fill="#c7e3ef"/>
<rect x="612.33" y="328.80" width="9.70" height="15.95" fill="#fefefd"/>
<rect x="612.33" y="344.40" width="9.70" height="8.15" fill="#dceef5"/>
<rect x="621.67" y="262.50" width="9.70" height="4.25" fill="#fefefd"/>
<rect x="621.67" y="266.40" width="9.70" height="8.15" fill="#fef3a6"/>
<rect x="621.67" y="274.20" width="9.70" height="8.15" fill="#fefefd"/>
<rect x="621.67" y="282.00" width="9.70" height="4.25" fill="#dceef5"/>
<rect x="621.67" y="285.90" width="9.70" height="8.15" fill="#fefefd"/>
<rect x="621.67" y="293.70" width="9.70" height="12.05" fill="#fef3a6"/>
<rect x="621.67" y="305.40" width="9.70" height="4.25" fill="#fede8c"/>
<rect x="621.67" y="309.30" width="9.70" height="8.15" fill="#fef3a6"/>
<rect x="621.67" y="317.10" width="9.70" height="4.25" fill="#fefefd"/>
<rect x="621.67" y="321.00" width="9.70" height="8.15" fill="#dceef5"/>
<rect x="621.67" y="328.80" width="9.70" height="8.15" fill="#fefefd"/>
<rect x="621.67" y="336.60" width="9.70" height="4.25" fill="#c7e3ef"/>
<rect x="621.67" y="340.50" width="9.70" height="12.05" fill="#fefefd"/>
<rect x="631.02" y="262.50" width="9.70" height="12.05" fill="#fefefd"/>
<rect x="631.02" y="274.20" width="9.70" height="8.15" fill="#fef3a6"/>
<rect x="631.02" y="282.00" width="9.70" height="4.25" fill="#dceef5"/>
<rect x="631.02" y="285.90" width="9.70" height="4.25" fill="#c7e3ef"/>
<rect x="631.02" y="289.80" width="9.70" height="4.25" fill="#fefefd"/>
<rect x="631.02" y="293.70" width="9.70" height="12.05" fill="#fef3a6"/>
<rect x="631.02" y="305.40" width="9.70" height="4.25" fill="#fefefd"/>
<rect x="631.02" y="309.30" width="9.70" height="4.25" fill="#dceef5"/>
<rect x="631.02" y="313.20" width="9.70" height="15.95" fill="#c7e3ef"/>
<rect x="631.02" y="328.80" width="9.70" height="4.25" fill="#dceef5"/>
<rect x="631.02" y="332.70" width="9.70" height="19.85" fill="#fefefd"/>
<rect x="640.37" y="262.50" width="9.70" height="8.15" fill="#fefefd"/>
<rect x="640.37" y="270.30" width="9.70" height="4.25" fill="#fef3a6"/>
<rect x="640.37" y="274.20" width="9.70" height="8.15" fill="#fefefd"/>
<rect x="640.37" y="282.00" width="9.70" height="4.25" fill="#dceef5"/>
<rect x="640.37" y="285.90" width="9.70" height="8.15" fill="#c7e3ef"/>
<rect x="640.37" y="293.70" width="9.70" height="4.25" fill="#fefefd"/>
<rect x="640.37" y="297.60" width="9.70" height="8.15" fill="#fef3a6"/>
<rect x="640.37" y="305.40" width="9.70" height="4.25" fill="#fede8c"/>
<rect x="640.37" y="309.30" width="9.70" height="4.25" fill="#fef3a6"/>
<rect x="640.37" y="313.20" width="9.70" height="8.15" fill="#fefefd"/>
<rect x="640.37" y="321.00" width="9.70" height="4.25" fill="#a0cce3"/>
<rect x="640.37" y="324.90" width="9.70" height="4.25" fill="#c7e3ef"/>
<rect x="640.37" y="328.80" width="9.70" height="4.25" fill="#dceef5"/>
<rect x="640.37" y="332.70" width="9.70" height="19.85" fill="#fefefd"/>
<rect x="649.72" y="262.50" width="9.70" height="12.05" fill="#fefefd"/>
<rect x="649.72" y="274.20" width="9.70" height="4.25" fill="#fef3a6"/>
<rect x="649.72" y="278.10" width="9.70" height="27.65" fill="#fefefd"/>
<rect x="649.72" y="305.40" width="9.70" height="4.25" fill="#fef9b4"/>
<rect x="649.72" y="309.30" width="9.70" height="8.15" fill="#fef3a6"/>
<rect x="649.72" y="317.10" width="9.70" height="4.25" fill="#fefefd"/>
<rect x="649.72" y="321.00" width="9.70" height="8.15" fill="#c7e3ef"/>
<rect x="649.72" y="328.80" width="9.70" height="8.15" fill="#fefefd"/>
<rect x="649.72" y="336.60" width="9.70" height="8.15" fill="#fef3a6"/>
<rect x="649.72" y="344.40" width="9.70" height="8.15" fill="#fefefd"/>
<rect x="659.06" y="262.50" width="9.70" height="8.15" fill="#fefefd"/>
<rect x="659.06" y="270.30" width="9.70" height="4.25" fill="#fef3a6"/>
<rect x="659.06" y="274.20" width="9.70" height="8.15" fill="#fefefd"/>
<rect x="659.06" y="282.00" width="9.70" height="4.25" fill="#dceef5"/>
<rect x="659.06" y="285.90" width="9.70" height="19.85" fill="#c7e3ef"/>
<rect x="659.06" y="305.40" width="9.70" height="4.25" fill="#a0cce3"/>
<rect x="659.06" y="309.30" width="9.70" height="4.25" fill="#c7e3ef"/>
<rect x="659.06" y="313.20" width="9.70" height="12.05" fill="#a0cce3"/>
<rect x="659.06" y="324.90" width="9.70" height="4.25" fill="#c7e3ef"/>
<rect x="659.06" y="328.80" width="9.70" height="4.25" fill="#dceef5"/>
<rect x="659.06" y="332.70" width="9.70" height="8.15" fill="#fef3a6"/>
<rect x="659.06" y="340.50" width="9.70" height="12.05" fill="#fefefd"/>
<rect x="668.41" y="262.50" width="9.70" height="4.25" fill="#fefefd"/>
<rect x="668.41" y="266.40" width="9.70" height="4.25" fill="#fef3a6"/>
<rect x="668.41" y="270.30" width="9.70" height="12.05" fill="#fefefd"/>
<rect x="668.41" y="282.00" width="9.70" height="4.25" fill="#dceef5"/>
<rect x="668.41" y="285.90" width="9.70" height="4.25" fill="#c7e3ef"/>
<rect x="668.41" y="289.80" width="9.70" height="4.25" fill="#7aafd5"/>
<rect x="668.41" y="293.70" width="9.70" height="4.25" fill="#a0cce3"/>
<rect x="668.41" y="297.60" width="9.70" height="8.15" fill="#c7e3ef"/>
<rect x="668.41" y="305.40" width="9.70" height="4.25" fill="#a0cce3"/>
<rect x="668.41" y="309.30" width="9.70" height="4.25" fill="#c7e3ef"/>
<rect x="668.41" y="313.20" width="9.70" height="12.05" fill="#a0cce3"/>
<rect x="668.41" y="324.90" width="9.70" height="4.25" fill="#c7e3ef"/>
<rect x="668.41" y="328.80" width="9.70" height="4.25" fill="#dceef5"/>
<rect x="668.41" y="332.70" width="9.70" height="4.25" fill="#fef3a6"/>
<rect x="668.41" y="336.60" width="9.70" height="15.95" fill="#fefefd"/>
<rect x="677.76" y="262.50" width="9.70" height="19.85" fill="#fefefd"/>
<rect x="677.76" y="282.00" width="9.70" height="12.05" fill="#dceef5"/>
<rect x="677.76" y="293.70" width="9.70" height="19.85" fill="#c7e3ef"/>
<rect x="677.76" y="313.20" width="9.70" height="12.05" fill="#a0cce3"/>
<rect x="677.76" y="324.90" width="9.70" height="4.25" fill="#c7e3ef"/>
<rect x="677.76" y="328.80" width="9.70" height="4.25" fill="#dceef5"/>
<rect x="677.76" y="332.70" width="9.70" height="19.85" fill="#fefefd"/>
<rect x="687.11" y="262.50" width="9.70" height="51.05" fill="#fefefd"/>
<rect x="687.11" y="313.20" width="9.70" height="8.15" fill="#dceef5"/>
<rect x="687.11" y="321.00" width="9.70" height="8.15" fill="#c7e3ef"/>
<rect x="687.11" y="328.80" width="9.70" height="4.25" fill="#dceef5"/>
<rect x="687.11" y="332.70" width="9.70" height="19.85" fill="#fefefd"/>
<rect x="696.45" y="262.50" width="9.70" height="15.95" fill="#fefefd"/>
<rect x="696.45" y="278.10" width="9.70" height="4.25" fill="#fef3a6"/>
<rect x="696.45" y="282.00" width="9.70" height="4.25" fill="#c7e3ef"/>
<rect x="696.45" y="285.90" width="9.70" height="4.25" fill="#dceef5"/>
<rect x="696.45" y="289.80" width="9.70" height="4.25" fill="#c7e3ef"/>
<rect x="696.45" y="293.70" width="9.70" height="15.95" fill="#a0cce3"/>
<rect x="696.45" y="309.30" width="9.70" height="4.25" fill="#c7e3ef"/>
<rect x="696.45" y="313.20" width="9.70" height="8.15" fill="#a0cce3"/>
<rect x="696.45" y="321.00" width="9.70" height="4.25" fill="#7aafd5"/>
<rect x="696.45" y="324.90" width="9.70" height="4.25" fill="#c7e3ef"/>
<rect x="696.45" y="328.80" width="9.70" height="4.25" fill="#dceef5"/>
<rect x="696.45" y="332.70" width="9.70" height="19.85" fill="#fef3a6"/></g>
<rect x="32.80" y="262.50" width="673.00" height="89.70" fill="none" stroke="rgba(20,20,40,0.55)" stroke-width="0.9"/>
<text x="107.58" y="364.20" class="tl" text-anchor="middle">80</text>
<text x="201.05" y="364.20" class="tl" text-anchor="middle">90</text>
<text x="294.52" y="364.20" class="tl" text-anchor="middle">100</text>
<text x="387.99" y="364.20" class="tl" text-anchor="middle">110</text>
<text x="481.47" y="364.20" class="tl" text-anchor="middle">120</text>
<text x="574.94" y="364.20" class="tl" text-anchor="middle">130</text>
<text x="668.41" y="364.20" class="tl" text-anchor="middle">140</text>
<rect x="331.91" y="262.50" width="93.47" height="89.70" fill="none" stroke="#db3a33" stroke-width="1.4"/>
<text x="28.8" y="355.30" class="tl" text-anchor="end">0</text>
<text x="28.8" y="331.90" class="tl" text-anchor="end">6</text>
<text x="28.8" y="308.50" class="tl" text-anchor="end">12</text>
<text x="28.8" y="285.10" class="tl" text-anchor="end">18</text>
<text x="28.8" y="265.60" class="tl" text-anchor="end">24</text>
<text id="todc" transform="translate(11.9,307.2) rotate(-90)" class="ms" text-anchor="middle" style="font-size:13.3px;letter-spacing:0.75px;fill:#555555">Time of day</text>
<text id="tc" x="369" y="257.9" class="ms" text-anchor="middle" style="font-size:12.8px;letter-spacing:0.55px"><tspan letter-spacing="1.2">NEE</tspan><tspan style="font-style:normal"> (</tspan>μmolm<tspan dy="-4.5" style="font-size:8.5px">−2</tspan><tspan dy="4.5">s</tspan><tspan dy="-4.5" style="font-size:8.5px">−1</tspan><tspan dy="4.5" style="font-style:normal">)</tspan></text>
<text id="lc" x="686" y="275.5" class="ms" style="font-style:normal;font-size:12.5px">(c)</text>
<text id="doy" x="369.7" y="377" class="ms" text-anchor="middle" style="font-size:11.8px;letter-spacing:0.8px"><tspan>DOY</tspan><tspan style="font-style:normal" dx="3"> 2017</tspan></text>
<rect x="736.00" y="349.00" width="8.50" height="3.50" fill="#2e348e"/>
<rect x="736.00" y="345.79" width="8.50" height="3.50" fill="#313e96"/>
<rect x="736.00" y="342.59" width="8.50" height="3.50" fill="#34479d"/>
<rect x="736.00" y="339.39" width="8.50" height="3.50" fill="#354ea1"/>
<rect x="736.00" y="336.18" width="8.50" height="3.50" fill="#3754a5"/>
<rect x="736.00" y="332.98" width="8.50" height="3.50" fill="#3b5eaa"/>
<rect x="736.00" y="329.77" width="8.50" height="3.50" fill="#4067b0"/>
<rect x="736.00" y="326.57" width="8.50" height="3.50" fill="#4671b5"/>
<rect x="736.00" y="323.37" width="8.50" height="3.50" fill="#4c7cbb"/>
<rect x="736.00" y="320.16" width="8.50" height="3.50" fill="#5286c1"/>
<rect x="736.00" y="316.96" width="8.50" height="3.50" fill="#5e93c8"/>
<rect x="736.00" y="313.76" width="8.50" height="3.50" fill="#6ba0ce"/>
<rect x="736.00" y="310.55" width="8.50" height="3.50" fill="#77acd4"/>
<rect x="736.00" y="307.35" width="8.50" height="3.50" fill="#82b6d8"/>
<rect x="736.00" y="304.15" width="8.50" height="3.50" fill="#8ec0dd"/>
<rect x="736.00" y="300.94" width="8.50" height="3.50" fill="#a2cde3"/>
<rect x="736.00" y="297.74" width="8.50" height="3.50" fill="#b8daeb"/>
<rect x="736.00" y="294.54" width="8.50" height="3.50" fill="#cce6f1"/>
<rect x="736.00" y="291.33" width="8.50" height="3.50" fill="#ddeff6"/>
<rect x="736.00" y="288.13" width="8.50" height="3.50" fill="#fafcfc"/>
<rect x="736.00" y="284.93" width="8.50" height="3.50" fill="#fefbcd"/>
<rect x="736.00" y="281.72" width="8.50" height="3.50" fill="#fef9b6"/>
<rect x="736.00" y="278.52" width="8.50" height="3.50" fill="#fef3a6"/>
<rect x="736.00" y="275.31" width="8.50" height="3.50" fill="#fee695"/>
<rect x="736.00" y="272.11" width="8.50" height="3.50" fill="#fed584"/>
<rect x="736.00" y="268.91" width="8.50" height="3.50" fill="#fcc173"/>
<rect x="736.00" y="265.70" width="8.50" height="3.50" fill="#fbac62"/>
<rect x="736.00" y="262.50" width="8.50" height="3.50" fill="#f99a52"/>
<rect x="736.00" y="262.50" width="8.50" height="89.70" fill="none" stroke="rgba(40,40,40,0.45)" stroke-width="0.7"/>
<line x1="742.50" y1="337.46" x2="744.50" y2="337.46" stroke="#333" stroke-width="0.7"/>
<text x="748.2" y="340.66" class="tl" style="font-size:8.2px">-15</text>
<line x1="742.50" y1="321.45" x2="744.50" y2="321.45" stroke="#333" stroke-width="0.7"/>
<text x="748.2" y="324.65" class="tl" style="font-size:8.2px">-10</text>
<line x1="742.50" y1="305.43" x2="744.50" y2="305.43" stroke="#333" stroke-width="0.7"/>
<text x="748.2" y="308.63" class="tl" style="font-size:8.2px">-5</text>
<line x1="742.50" y1="289.41" x2="744.50" y2="289.41" stroke="#333" stroke-width="0.7"/>
<text x="748.2" y="292.61" class="tl" style="font-size:8.2px">0</text>
<line x1="742.50" y1="273.39" x2="744.50" y2="273.39" stroke="#333" stroke-width="0.7"/>
<text x="748.2" y="276.59" class="tl" style="font-size:8.2px">5</text>
</svg></body></html>
